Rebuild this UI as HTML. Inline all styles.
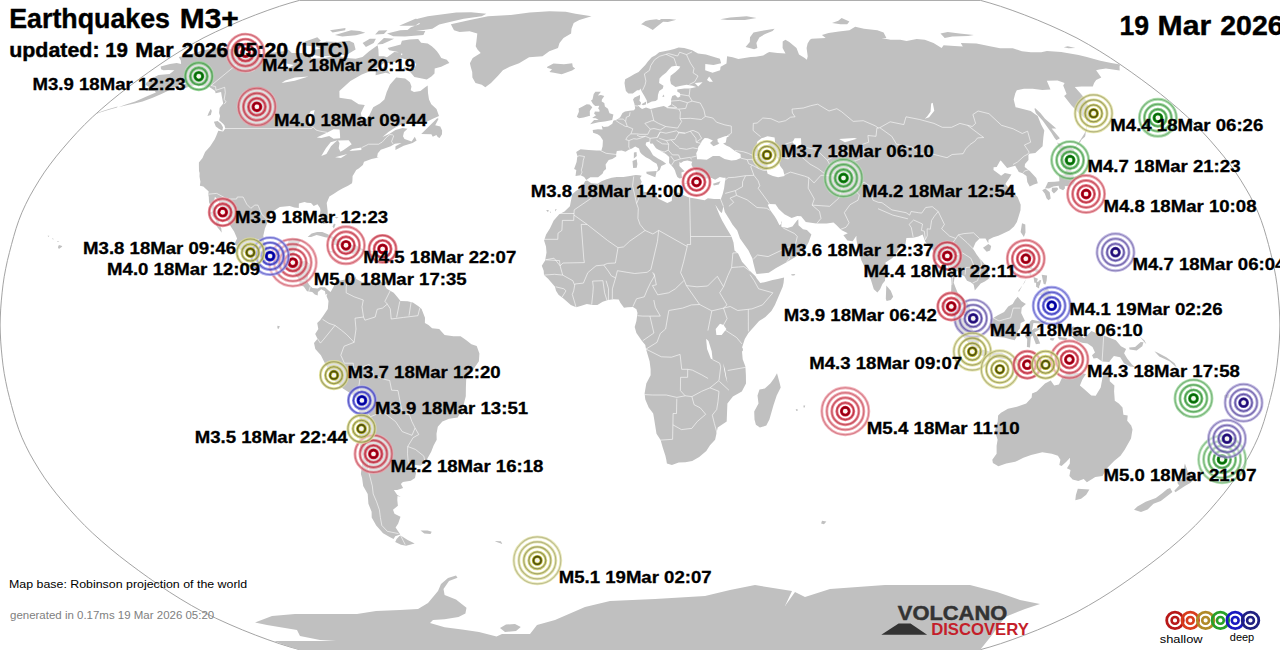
<!DOCTYPE html>
<html><head><meta charset="utf-8"><title>Earthquakes M3+</title>
<style>
html,body{margin:0;padding:0;background:#fff;}
body{width:1280px;height:650px;overflow:hidden;position:relative;font-family:"Liberation Sans",sans-serif;}
svg{position:absolute;left:0;top:0;}
.l{position:absolute;font-weight:bold;font-size:16px;color:#000;white-space:nowrap;line-height:1;}
</style></head><body>
<svg width="1280" height="650" viewBox="0 0 1280 650">
<path d="M299.4,0.4 290.1,3.0 279.5,6.3 267.9,10.3 255.5,14.9 242.4,20.1 229.0,25.8 215.6,31.9 203.0,38.1 191.3,44.6 180.2,51.2 169.4,58.0 159.0,65.0 148.8,72.1 138.8,79.3 129.0,86.6 119.4,94.0 110.2,101.5 101.3,109.1 92.7,116.8 84.6,124.6 77.1,132.4 70.0,140.2 63.1,148.2 56.5,156.1 50.3,164.1 44.5,172.1 39.3,180.1 34.4,188.2 29.8,196.2 25.7,204.3 22.0,212.3 18.8,220.4 16.1,228.4 13.7,236.5 11.5,244.5 9.4,252.6 7.4,260.6 5.7,268.7 4.2,276.7 3.0,284.8 2.1,292.8 1.3,300.9 0.7,308.9 0.3,317.0 0.1,325.0 0.3,333.0 0.7,341.1 1.3,349.1 2.1,357.2 3.0,365.2 4.2,373.3 5.7,381.3 7.4,389.4 9.4,397.4 11.5,405.5 13.7,413.5 16.1,421.6 18.8,429.6 22.0,437.7 25.7,445.7 29.8,453.8 34.4,461.8 39.3,469.9 44.5,477.9 50.3,485.9 56.5,493.9 63.1,501.8 70.0,509.8 77.1,517.6 84.6,525.4 92.7,533.2 101.3,540.9 110.2,548.5 119.4,556.0 129.0,563.4 138.8,570.7 148.8,577.9 159.0,585.0 169.4,592.0 180.2,598.8 191.3,605.4 203.0,611.9 215.6,618.1 229.0,624.2 242.4,629.9 255.5,635.1 267.9,639.7 279.5,643.7 290.1,647.0 299.4,649.6 980.6,649.6 989.9,647.0 1000.5,643.7 1012.1,639.7 1024.5,635.1 1037.6,629.9 1051.0,624.2 1064.4,618.1 1077.0,611.9 1088.7,605.4 1099.8,598.8 1110.6,592.0 1121.0,585.0 1131.2,577.9 1141.2,570.7 1151.0,563.4 1160.6,556.0 1169.8,548.5 1178.7,540.9 1187.3,533.2 1195.4,525.4 1202.9,517.6 1210.0,509.8 1216.9,501.8 1223.5,493.9 1229.7,485.9 1235.5,477.9 1240.7,469.9 1245.6,461.8 1250.2,453.8 1254.3,445.7 1258.0,437.7 1261.2,429.6 1263.9,421.6 1266.3,413.5 1268.5,405.5 1270.6,397.4 1272.6,389.4 1274.3,381.3 1275.8,373.3 1277.0,365.2 1277.9,357.2 1278.7,349.1 1279.3,341.1 1279.7,333.0 1279.9,325.0 1279.7,317.0 1279.3,308.9 1278.7,300.9 1277.9,292.8 1277.0,284.8 1275.8,276.7 1274.3,268.7 1272.6,260.6 1270.6,252.6 1268.5,244.5 1266.3,236.5 1263.9,228.4 1261.2,220.4 1258.0,212.3 1254.3,204.3 1250.2,196.2 1245.6,188.2 1240.7,180.1 1235.5,172.1 1229.7,164.1 1223.5,156.1 1216.9,148.2 1210.0,140.2 1202.9,132.4 1195.4,124.6 1187.3,116.8 1178.7,109.1 1169.8,101.5 1160.6,94.0 1151.0,86.6 1141.2,79.3 1131.2,72.1 1121.0,65.0 1110.6,58.0 1099.8,51.2 1088.7,44.6 1077.0,38.1 1064.4,31.9 1051.0,25.8 1037.6,20.1 1024.5,14.9 1012.1,10.3 1000.5,6.3 989.9,3.0 980.6,0.4Z" fill="#fff" stroke="#999" stroke-width="0.9"/>
<path d="M160.7,66.4 169.9,63.9 176.7,62.9 181.1,63.9 180.8,60.5 178.8,57.0 188.5,55.0 203.4,50.2 220.0,46.9 228.8,48.6 236.5,50.2 245.8,50.9 251.6,52.2 258.8,54.6 267.4,52.9 274.2,52.6 283.6,51.2 288.3,49.6 291.8,52.9 302.1,52.9 310.5,54.6 311.2,58.7 325.0,58.0 332.0,56.3 338.2,55.3 343.6,57.7 355.7,58.7 362.5,57.0 369.2,51.2 377.6,45.3 378.4,49.6 378.7,56.3 383.9,56.3 387.0,57.3 394.2,51.9 401.3,52.6 400.8,56.3 396.8,61.5 389.1,62.9 383.5,63.2 377.5,67.4 372.6,70.3 361.8,74.6 350.4,81.1 339.4,91.0 339.5,97.8 351.3,99.6 358.7,104.2 364.8,104.9 360.9,113.0 361.9,119.5 366.8,118.7 369.5,114.9 373.2,107.2 379.9,103.4 384.4,99.6 386.7,92.1 389.9,84.7 396.2,77.5 405.2,78.5 409.9,82.2 411.5,86.6 410.7,90.3 414.0,92.1 420.4,91.0 425.2,87.3 427.7,85.5 428.0,92.9 429.0,99.6 431.3,104.2 436.5,109.1 439.0,116.0 432.3,119.1 422.8,123.8 410.5,123.8 402.8,123.8 394.9,127.7 388.4,132.0 382.5,137.1 389.2,133.9 395.5,130.0 402.5,128.1 407.5,128.8 404.0,132.0 403.0,136.3 404.5,139.1 411.6,141.4 414.8,136.7 416.6,140.6 412.6,143.0 403.7,145.8 395.4,150.1 395.5,146.2 401.5,143.0 394.8,143.8 390.7,146.2 385.2,148.2 380.8,149.7 377.8,153.3 377.1,156.9 378.8,156.9 376.1,158.1 371.5,158.9 364.0,161.7 362.9,164.9 358.7,168.5 356.2,170.1 353.9,174.1 352.6,176.1 352.4,180.9 352.0,183.3 348.0,185.8 342.4,188.6 338.0,191.0 333.9,193.8 329.4,196.6 326.7,203.1 327.6,210.7 327.7,218.4 327.2,221.2 325.7,223.6 323.2,224.0 321.8,220.4 319.9,214.3 320.5,210.3 320.0,207.9 317.5,204.3 313.7,205.9 311.0,203.1 307.0,202.7 304.5,201.9 298.9,203.5 298.8,207.9 294.4,207.5 289.7,205.9 279.8,207.1 272.8,211.5 269.1,213.9 268.2,220.8 264.9,228.4 263.3,235.7 264.3,242.1 267.3,247.7 272.3,251.8 279.5,250.1 284.0,250.1 287.2,245.3 288.6,240.5 291.6,239.3 297.0,238.5 301.0,239.7 298.2,244.5 295.9,250.5 293.6,254.2 293.3,259.4 291.6,261.4 299.0,261.4 306.1,261.0 310.2,264.6 308.2,270.7 308.0,276.7 307.0,280.7 309.1,284.8 312.5,288.0 317.7,288.4 319.9,287.2 324.9,287.2 328.6,290.4 327.7,293.6 325.5,294.8 325.0,291.2 321.2,289.2 317.9,292.0 317.7,295.6 314.9,294.4 312.2,292.0 307.0,291.2 303.7,286.4 299.6,285.2 299.5,280.7 295.8,274.7 294.0,271.9 290.8,271.9 285.7,269.5 280.5,268.7 277.3,266.2 272.7,260.6 269.3,259.8 263.8,261.8 257.1,259.4 252.5,257.4 247.4,254.2 244.1,252.6 238.5,248.5 234.8,243.3 237.1,238.5 234.1,231.6 229.9,225.2 227.4,221.2 224.0,214.3 222.9,212.3 219.6,206.3 218.5,199.4 214.9,197.0 213.4,204.3 215.5,208.3 216.7,212.3 217.8,218.4 219.7,224.4 221.3,228.4 221.7,232.8 220.1,230.4 217.4,227.2 215.6,224.4 216.2,220.4 212.9,217.1 210.5,213.5 208.9,213.1 212.1,211.5 211.0,206.3 209.0,202.3 208.8,197.0 208.2,194.2 208.7,191.4 206.0,189.0 203.3,186.6 199.9,185.8 200.4,181.7 199.5,176.5 199.6,172.9 199.0,170.9 198.9,166.1 198.9,162.5 202.5,158.1 205.1,152.1 210.2,146.2 214.6,139.5 216.1,136.3 218.3,130.8 223.1,131.6 225.3,128.5 224.4,125.3 222.8,123.4 219.1,120.3 220.1,116.0 219.1,113.0 219.6,108.0 223.2,103.4 222.4,99.6 221.7,95.9 221.1,92.1 215.6,93.3 215.1,91.0 211.6,88.4 208.5,86.6 201.8,86.2 196.4,84.7 190.0,86.6 183.6,88.4 175.8,89.5 182.3,84.7 189.5,82.2 184.5,82.9 178.1,85.8 169.2,90.3 161.4,94.0 152.7,97.8 142.6,101.5 134.5,103.4 126.5,105.3 118.4,107.2 125.8,104.6 135.2,101.5 147.6,95.9 155.9,92.5 154.8,91.0 145.3,91.0 149.3,87.3 145.5,84.7 146.6,82.2 153.7,77.5 158.5,74.9 169.6,73.9 174.4,70.3 168.1,69.9 163.5,70.3 161.0,69.2Z M549.5,11.2 565.8,11.8 575.4,13.7 591.5,16.2 579.3,20.1 573.7,22.9 571.5,28.8 571.1,33.4 563.5,38.1 559.5,43.0 558.0,47.9 549.3,51.2 542.5,56.3 529.1,57.3 519.1,63.2 509.7,66.7 502.9,70.3 498.0,75.7 491.0,82.9 485.3,87.3 481.8,84.7 475.5,82.9 472.4,77.5 472.2,72.1 470.7,66.7 469.9,63.2 472.7,58.0 480.7,52.9 477.5,49.6 475.7,46.3 476.4,41.4 477.3,33.4 469.6,31.2 459.6,31.9 454.0,30.3 452.4,27.3 450.9,24.3 469.9,20.1 488.1,16.2 510.8,14.9 529.7,12.5Z M547.3,66.7 553.5,63.6 564.0,64.3 572.2,63.2 572.8,66.7 575.2,68.5 572.1,70.6 561.7,74.2 553.9,72.8 549.4,72.1 552.0,69.2 547.0,67.8Z M678.6,47.6 684.2,47.9 692.2,50.2 698.0,53.6 705.9,54.6 719.9,58.7 721.1,63.2 713.5,65.0 705.3,63.9 705.2,70.3 712.5,72.8 720.1,70.3 720.6,66.7 726.5,63.6 727.1,56.3 732.6,57.3 738.4,59.1 750.7,57.0 755.8,56.7 763.2,55.6 767.2,52.9 769.3,51.9 777.5,52.9 785.5,53.6 782.6,47.9 782.7,41.4 785.4,39.7 789.3,42.0 796.5,47.9 799.0,54.6 804.7,58.0 806.9,59.8 807.7,56.3 806.6,47.9 807.6,43.6 809.9,39.7 811.6,38.8 825.7,38.1 821.9,35.0 828.6,33.1 838.9,31.5 849.4,30.3 855.2,26.7 864.0,28.8 877.4,30.3 883.6,32.5 886.4,38.1 881.5,38.1 890.5,39.7 900.3,39.7 906.6,41.0 916.7,39.1 924.8,39.7 933.5,43.0 941.6,47.9 943.6,45.3 954.4,45.9 962.8,46.6 960.8,43.0 976.5,43.6 989.9,46.3 1000.1,48.2 1012.8,48.2 1021.9,51.2 1031.0,52.2 1041.2,52.2 1047.0,50.9 1061.2,51.9 1078.6,55.0 1086.8,57.0 1100.3,60.8 1111.3,62.9 1120.1,64.6 1119.5,66.7 1119.7,70.6 1105.9,68.5 1099.2,69.6 1096.1,70.3 1101.3,77.5 1096.2,80.0 1094.1,82.9 1092.8,86.6 1081.5,86.6 1074.8,87.0 1081.0,94.0 1086.2,100.4 1088.6,107.2 1088.8,112.2 1090.2,118.7 1087.9,120.7 1080.7,114.9 1071.3,105.3 1064.1,95.9 1066.6,94.0 1063.2,85.5 1064.6,82.9 1057.5,80.4 1046.8,80.7 1050.5,89.5 1042.3,89.9 1032.6,88.8 1024.0,88.8 1016.8,90.3 1015.3,93.3 1013.7,99.6 1015.6,107.2 1030.7,111.0 1037.7,116.0 1041.1,124.6 1044.3,130.4 1043.4,137.1 1042.6,146.2 1035.3,152.9 1029.3,153.7 1028.4,154.9 1028.5,160.1 1025.0,164.1 1024.7,166.9 1029.8,170.9 1036.3,178.1 1037.8,183.3 1033.9,184.5 1029.7,186.6 1027.3,182.1 1026.5,176.1 1022.6,173.3 1018.8,172.1 1015.2,165.7 1007.1,168.1 1001.2,160.9 1000.3,160.5 996.7,166.9 993.6,167.3 993.5,170.1 999.6,174.5 1001.1,175.7 1004.9,172.9 1011.5,174.5 1008.5,179.3 1005.3,184.1 1010.8,190.2 1017.6,197.0 1019.2,201.0 1020.7,204.7 1020.5,210.3 1018.7,216.3 1016.9,222.0 1014.0,226.4 1009.5,230.4 1003.2,233.6 998.3,235.7 993.3,237.3 988.5,239.7 988.3,243.3 985.5,238.5 979.6,238.5 975.6,242.5 973.0,248.5 976.6,254.6 980.8,259.4 984.9,264.6 988.2,272.7 988.8,278.7 984.8,281.5 980.7,283.5 974.8,290.4 973.7,284.8 970.7,282.3 967.0,280.7 964.2,275.9 959.1,273.9 957.4,270.7 955.7,271.5 953.7,282.7 955.5,287.6 958.8,295.6 962.8,297.6 966.4,300.9 969.9,306.9 970.1,313.7 973.0,319.4 970.5,319.8 965.1,315.7 961.5,312.9 959.2,306.9 958.6,300.9 953.7,294.0 951.1,292.0 951.4,284.8 951.2,276.7 949.2,270.7 947.0,262.6 945.5,258.6 940.4,259.4 934.5,260.6 934.5,254.6 932.1,248.5 928.2,245.3 925.3,241.7 922.6,234.4 918.4,236.5 913.3,237.7 906.4,238.1 905.4,244.5 900.4,247.3 897.4,251.8 892.1,258.2 885.5,262.6 885.5,271.5 885.0,280.7 882.4,284.0 880.1,289.2 877.4,292.4 873.8,289.2 870.8,279.5 866.4,270.7 861.4,260.6 857.9,248.5 856.4,239.3 856.4,235.7 852.7,241.3 847.4,240.5 843.4,235.3 847.8,233.2 841.2,230.0 836.6,225.2 833.5,222.4 826.7,223.6 816.3,223.6 805.8,222.0 801.1,216.3 797.3,215.9 791.6,218.0 784.4,214.3 778.7,209.1 775.5,204.3 769.6,203.9 767.7,204.7 770.3,210.3 774.6,216.3 776.6,219.6 779.5,225.2 782.1,223.2 781.5,220.4 781.3,226.8 787.3,228.0 792.4,226.4 797.0,220.4 798.3,219.2 798.5,225.2 803.0,229.2 806.9,230.0 811.4,234.4 808.5,242.5 805.1,248.5 802.1,250.1 796.2,256.6 786.6,262.2 775.7,268.3 768.8,272.7 761.8,273.5 756.5,273.9 755.3,270.7 753.2,262.6 752.4,258.6 748.5,250.5 744.8,245.3 740.0,238.5 737.2,230.4 732.4,224.4 730.1,220.4 724.8,211.9 723.4,206.3 720.9,199.0 722.6,194.2 724.1,188.2 724.9,182.1 725.6,177.7 723.2,177.7 719.8,176.9 715.1,179.7 711.6,178.1 706.6,178.5 701.6,177.7 696.5,176.1 695.1,170.1 691.9,166.1 691.4,164.1 692.3,161.7 687.3,160.5 683.4,161.3 680.9,162.9 679.5,162.1 679.4,166.1 681.8,168.5 684.6,171.3 681.4,172.5 682.0,178.1 679.6,178.5 677.3,176.9 675.8,173.3 675.0,170.5 673.6,168.1 671.2,165.3 669.1,162.9 669.2,156.9 665.9,154.1 660.9,151.3 656.0,148.2 652.7,143.4 650.5,143.8 649.5,141.4 646.0,142.6 645.7,145.0 650.0,150.1 653.0,155.3 657.9,158.5 662.9,161.3 666.2,163.7 661.3,166.1 659.8,170.1 656.9,172.1 658.1,168.1 656.7,163.7 653.1,161.7 649.8,159.3 645.8,157.3 641.6,154.1 640.0,152.1 639.0,148.6 635.2,146.6 632.0,148.6 628.8,149.7 625.5,151.7 621.7,150.5 616.8,150.9 616.1,154.5 616.3,156.5 612.3,158.9 608.7,160.1 605.6,164.5 606.1,168.9 603.7,170.9 602.5,173.7 598.1,177.3 590.4,177.3 586.3,180.1 584.1,176.9 580.6,175.3 575.5,176.1 576.3,170.1 574.1,168.9 576.6,162.1 577.4,156.1 576.2,152.1 580.6,149.3 588.6,150.1 596.6,150.5 601.4,150.5 602.6,146.2 602.9,140.2 600.1,135.9 597.6,134.3 593.1,132.8 592.7,130.0 598.0,129.2 602.6,129.6 601.7,125.7 603.8,126.9 608.1,126.5 612.3,123.8 613.3,120.7 617.1,119.5 620.2,117.2 622.5,113.0 625.0,111.4 629.5,110.7 634.0,110.3 635.2,108.4 634.4,103.8 633.0,99.6 634.5,97.4 640.0,95.1 640.0,97.8 639.4,100.8 641.2,102.7 637.9,105.3 640.0,107.6 642.1,109.1 646.0,107.6 650.5,109.1 657.9,107.2 663.8,106.1 666.8,107.6 671.1,104.6 671.1,99.6 672.2,95.9 675.1,95.1 677.9,97.8 680.4,96.2 679.8,92.9 677.4,91.8 677.2,89.5 684.2,88.4 689.9,88.4 696.3,87.0 692.4,85.8 686.6,84.7 681.1,85.8 675.5,87.0 671.0,84.0 670.1,80.0 670.6,75.7 675.5,72.1 679.2,68.5 680.3,66.4 676.2,65.7 671.7,66.4 669.0,69.2 666.0,72.8 662.1,75.7 659.5,78.5 659.1,82.9 663.5,85.8 662.8,88.4 659.2,91.0 658.0,94.8 657.6,99.6 655.6,101.1 651.8,101.5 647.1,103.8 646.8,100.4 644.4,95.9 642.0,92.1 640.3,88.4 639.4,90.3 637.1,90.3 632.8,93.6 628.4,93.6 625.9,91.0 625.0,86.6 624.5,82.9 625.2,79.3 630.3,76.4 634.5,73.9 638.6,72.1 641.4,68.9 645.3,65.0 647.9,61.5 651.7,57.3 655.5,55.3 659.2,52.2 664.3,51.2 669.3,50.2 674.2,48.9Z M714.1,199.0 720.9,199.0 723.4,206.3 722.1,212.3 721.4,213.1 718.9,210.3 715.4,204.7 715.9,206.3 719.5,215.1 722.1,220.4 726.7,228.4 731.5,236.5 733.5,242.5 734.5,250.5 738.1,253.4 742.0,261.8 745.6,265.8 750.0,271.1 755.5,276.3 756.6,278.3 760.3,283.1 765.5,281.9 772.6,279.9 777.8,279.1 784.1,277.5 783.6,282.7 782.7,286.8 779.3,294.8 774.9,304.9 771.4,310.9 765.4,317.0 759.1,321.0 753.8,327.0 748.4,333.0 744.8,339.1 742.2,347.1 742.1,352.4 742.7,359.2 745.4,366.5 745.9,375.3 746.0,383.4 741.8,391.4 732.9,396.6 727.4,403.5 727.0,413.5 726.7,421.6 717.7,427.6 716.4,433.7 715.1,439.7 710.0,445.3 706.3,451.0 699.2,457.0 692.2,461.0 685.4,462.2 678.7,462.6 671.9,465.1 666.9,463.4 666.3,459.8 665.4,455.8 662.8,447.7 660.6,440.1 656.5,433.7 653.9,417.6 653.2,413.5 648.7,407.5 645.3,399.5 644.6,393.4 646.3,383.4 650.6,375.3 650.6,369.3 649.6,361.2 646.0,349.1 645.3,345.1 641.8,340.7 636.4,333.0 634.7,327.0 636.4,321.0 637.5,312.9 636.4,309.3 632.9,306.9 627.6,307.3 624.0,307.7 620.5,302.9 618.7,299.6 613.4,299.2 608.1,300.0 602.7,301.7 597.4,304.9 592.8,304.9 586.8,304.1 581.4,305.7 576.1,307.3 570.8,304.9 563.7,298.8 558.5,294.8 556.0,290.8 555.0,286.8 550.9,281.9 548.1,278.7 544.0,275.1 543.7,270.7 541.8,265.8 545.1,260.6 546.5,252.6 546.0,246.5 544.1,240.5 546.1,234.4 549.9,228.4 553.7,220.4 559.2,214.3 564.5,211.5 569.9,206.3 570.9,201.0 572.3,194.2 575.9,191.0 581.8,187.4 585.2,180.9 587.2,180.5 591.4,183.3 597.5,183.7 601.6,181.3 606.7,179.3 611.7,177.7 616.7,176.9 623.4,176.9 630.0,176.1 635.7,174.9 639.3,175.3 641.7,175.7 640.0,178.1 641.7,181.7 640.0,186.2 639.0,189.0 642.4,191.4 648.4,192.6 656.3,195.0 658.0,198.6 667.3,203.1 671.7,201.0 672.2,196.2 673.8,193.8 677.2,192.6 680.6,193.0 683.0,195.0 689.2,197.4 697.8,199.0 704.6,200.2 707.9,198.2Z M777.0,373.3 779.8,383.4 780.7,387.4 776.7,395.4 773.4,405.5 769.4,419.6 766.3,425.6 759.9,427.6 755.9,424.8 754.5,419.6 754.2,411.5 758.5,403.5 757.5,395.4 759.5,389.4 764.8,388.6 770.3,383.4 774.0,378.5Z M328.6,290.4 330.6,292.0 335.8,282.7 339.5,280.7 344.9,279.5 349.0,275.5 351.0,277.5 350.1,281.1 354.8,278.3 355.7,275.9 356.2,279.1 362.4,282.3 369.4,282.3 376.5,282.3 381.8,282.3 384.2,284.4 386.8,288.8 390.2,290.8 393.7,292.8 397.1,296.8 400.5,300.9 407.6,301.3 412.9,302.5 418.1,306.1 421.6,308.9 425.0,317.8 424.9,323.0 428.5,325.0 432.1,328.2 439.2,329.0 444.6,335.1 453.5,336.3 460.6,336.3 466.0,339.9 471.4,344.3 476.7,345.9 479.4,353.6 478.9,361.2 474.8,367.3 470.5,373.3 466.2,379.3 465.9,387.4 465.8,396.2 463.6,404.7 460.7,412.3 457.7,417.6 449.1,418.8 442.4,421.6 437.8,426.8 436.5,433.7 436.7,439.7 433.5,445.7 431.2,451.8 427.4,458.6 424.8,462.6 420.7,465.5 415.3,465.1 408.5,461.8 408.6,465.1 413.4,468.7 416.2,471.9 415.0,477.9 410.8,480.7 402.9,481.9 400.9,483.9 403.1,487.9 397.2,489.9 393.9,489.9 397.3,495.1 400.9,497.1 397.5,495.9 397.3,499.9 397.9,505.8 393.0,509.8 394.5,513.7 400.5,516.8 398.2,523.5 395.6,527.4 400.3,534.4 395.2,536.3 393.6,539.0 389.6,537.0 383.1,533.2 376.2,525.4 371.7,517.6 371.6,511.7 368.4,503.8 367.7,493.9 363.2,485.9 362.1,477.9 360.9,473.9 361.8,465.9 362.7,457.8 360.1,445.7 359.2,437.7 359.5,425.6 359.2,413.5 357.2,399.5 352.4,394.6 342.9,388.6 334.4,380.5 330.9,373.3 324.9,363.2 320.9,355.2 315.3,349.1 314.0,343.1 317.5,338.7 315.2,333.9 318.3,329.0 317.2,323.0 320.1,320.2 323.8,314.9 327.8,308.9 328.5,300.9 326.5,296.0Z M400.6,535.5 407.7,540.1 414.7,543.5 409.9,544.7 406.1,545.8 401.0,544.7 395.2,542.0 396.6,539.0 399.2,536.3Z M420.5,530.5 427.6,530.5 431.7,531.7 430.5,534.0 424.3,533.6Z M1106.8,368.1 1109.5,375.3 1109.8,381.3 1114.4,385.4 1114.1,391.4 1114.8,400.7 1118.8,403.5 1122.5,407.5 1123.4,414.7 1127.7,415.6 1127.2,420.8 1131.2,425.6 1132.5,429.6 1131.0,438.5 1124.7,449.8 1120.5,455.8 1114.1,461.0 1107.0,468.3 1102.5,475.9 1095.3,477.1 1086.9,482.3 1083.7,479.1 1078.3,481.1 1072.6,479.5 1069.4,475.9 1070.5,469.9 1066.9,468.3 1069.8,463.8 1070.0,457.8 1066.3,461.8 1061.6,465.9 1059.3,465.1 1060.4,459.8 1057.9,455.8 1051.9,453.8 1042.3,452.2 1031.1,455.0 1023.4,457.8 1015.2,461.8 1006.2,463.4 998.4,466.3 992.9,463.0 992.3,459.8 996.6,453.8 996.6,445.7 997.6,439.7 995.0,431.6 995.9,427.6 997.7,421.6 998.1,415.6 1001.0,412.7 1007.9,408.7 1016.9,406.7 1026.2,403.5 1031.7,397.4 1032.0,393.4 1036.8,391.4 1040.9,387.4 1045.0,383.4 1050.7,380.5 1054.2,385.4 1058.9,384.6 1062.3,377.3 1064.7,374.9 1069.4,371.3 1071.3,373.3 1076.3,372.9 1081.5,373.3 1086.0,374.1 1082.5,379.3 1079.9,385.4 1084.6,389.4 1091.3,395.4 1095.7,395.8 1100.7,387.4 1102.6,377.3 1104.9,369.3Z M1077.8,488.7 1089.4,489.5 1086.2,494.7 1081.1,498.7 1075.3,500.3 1075.9,495.1Z M1184.9,463.4 1187.3,469.9 1188.3,473.9 1196.5,476.7 1190.6,482.7 1184.9,485.9 1175.4,492.3 1174.3,490.7 1179.2,485.5 1177.2,482.7 1182.9,477.9 1184.3,473.9 1184.1,466.7Z M1170.1,487.9 1172.4,491.9 1166.0,497.1 1160.8,501.1 1153.5,503.8 1147.6,509.4 1141.0,512.1 1134.0,509.8 1137.4,506.6 1145.7,501.8 1155.8,497.9 1162.5,493.1 1167.3,489.1Z M1068.3,330.6 1073.0,326.6 1079.0,328.6 1080.6,335.1 1084.1,338.3 1091.4,331.0 1100.2,334.7 1103.7,335.5 1115.9,340.3 1121.0,346.3 1126.1,349.1 1124.1,353.2 1127.2,358.4 1132.0,364.4 1135.2,367.3 1130.0,366.5 1123.9,363.2 1120.2,357.2 1113.9,356.0 1111.2,359.2 1109.2,362.0 1102.1,361.6 1097.1,358.0 1093.5,358.4 1092.0,355.2 1095.0,352.4 1092.5,347.1 1087.4,343.5 1082.1,342.7 1076.9,340.7 1074.4,339.1 1071.7,336.3 1077.1,334.3 1071.8,333.0Z M1017.7,296.8 1021.5,301.3 1025.9,304.1 1021.7,307.7 1021.2,312.9 1025.0,321.0 1020.7,323.0 1020.0,328.2 1017.8,331.0 1016.6,337.1 1014.7,340.3 1009.4,339.1 1004.1,337.5 998.8,337.1 994.2,336.7 993.6,331.0 990.2,325.0 990.1,319.0 993.6,317.8 998.2,314.9 1004.1,312.1 1008.2,306.5 1012.7,304.1 1015.0,300.0Z M941.0,302.5 948.8,304.1 953.3,309.7 959.8,316.1 963.4,318.2 970.6,325.0 972.3,329.0 975.1,334.3 979.3,337.1 978.2,348.3 973.6,348.7 968.5,343.1 963.3,337.1 959.9,331.0 956.4,325.0 953.5,318.2 947.3,310.9Z M975.9,352.4 980.6,349.1 985.9,350.4 994.7,352.8 1001.7,352.8 1008.6,356.4 1008.1,359.6 999.6,358.4 992.6,357.2 985.6,356.4 978.6,354.8Z M1027.2,339.1 1024.8,336.3 1026.7,331.0 1028.5,327.0 1029.9,321.8 1032.0,319.8 1038.1,321.0 1044.5,321.0 1047.7,319.0 1045.2,323.0 1039.9,323.4 1033.5,323.0 1032.0,330.2 1034.6,328.2 1041.0,328.6 1034.5,332.6 1037.9,337.9 1040.2,343.5 1035.9,344.3 1032.6,335.5 1030.8,337.1 1030.0,347.5 1026.9,347.1Z M1025.4,250.5 1031.0,250.5 1032.0,256.6 1030.6,261.4 1032.1,267.9 1038.3,269.5 1040.5,272.7 1036.9,272.3 1031.3,269.5 1027.9,267.5 1025.1,262.6 1024.0,259.4 1025.6,258.6Z M1035.4,296.8 1040.5,293.6 1042.9,292.0 1047.1,286.8 1051.2,294.8 1050.5,299.6 1047.8,302.5 1043.4,300.0 1040.6,294.8Z M1045.1,188.2 1048.0,182.1 1054.5,181.7 1059.4,181.3 1059.1,174.9 1064.6,174.5 1065.8,170.1 1064.3,164.1 1062.6,161.7 1063.9,158.1 1068.1,162.1 1071.9,166.1 1071.3,171.3 1073.7,176.1 1074.9,180.9 1074.0,184.1 1071.2,185.4 1069.7,185.8 1064.8,186.2 1065.0,188.2 1063.1,190.2 1059.4,188.6 1058.6,185.8 1053.2,186.6 1049.0,188.6Z M1059.3,155.3 1057.9,151.3 1061.5,151.3 1059.2,148.2 1057.3,142.6 1065.5,147.0 1071.5,147.4 1074.4,150.9 1070.5,156.1 1063.9,153.7 1063.5,156.9 1061.0,158.1Z M1042.2,190.2 1045.3,188.6 1049.7,192.2 1050.7,198.6 1048.5,200.2 1046.5,198.2 1044.9,193.8Z M1051.6,191.0 1052.0,187.8 1057.2,187.4 1058.2,189.0 1056.7,191.0 1053.9,193.4Z M1054.6,137.9 1051.2,132.4 1042.8,120.7 1035.8,113.0 1034.5,109.1 1035.0,108.0 1040.4,113.0 1045.0,118.7 1056.3,128.5 1051.6,128.5 1059.9,138.3 1056.4,140.2Z M1020.6,232.0 1022.0,223.2 1025.3,224.4 1025.5,232.4 1023.9,236.9Z M983.0,247.7 988.4,244.1 991.2,246.1 990.1,250.5 986.7,251.8Z M885.8,298.8 886.3,285.6 890.8,290.8 893.2,296.8 890.8,300.0 886.6,300.9Z M594.1,119.9 598.7,119.9 595.8,118.3 592.2,118.0 596.0,115.3 594.1,113.7 594.9,111.4 599.4,111.8 599.5,109.9 598.2,108.4 599.3,105.7 595.4,106.1 594.0,104.9 592.7,103.4 591.0,100.4 592.5,99.6 593.7,94.0 595.4,91.8 600.9,91.8 597.9,95.5 600.9,95.1 604.3,95.9 601.9,99.6 601.7,101.5 604.3,103.0 604.9,106.5 608.0,108.7 608.7,111.0 609.5,113.3 613.4,114.5 612.2,119.9 604.7,121.4 598.5,122.2 590.1,124.2Z M589.0,116.0 583.7,117.6 579.0,118.3 576.8,116.8 578.9,111.8 578.7,108.4 583.5,106.1 586.7,104.2 589.6,104.6 592.3,107.2 589.8,111.0 589.9,116.0Z M641.1,24.3 645.5,20.9 649.9,20.1 656.5,19.3 663.4,21.5 656.1,27.3 652.8,30.0 648.1,27.3 643.4,24.9Z M658.9,21.5 660.8,19.0 669.6,19.0 676.4,19.8 667.9,22.1Z M745.6,46.9 749.8,42.0 750.0,37.2 753.5,32.5 760.9,30.9 774.6,28.8 772.6,30.9 765.1,34.0 759.3,37.5 756.4,43.0 757.4,47.9 754.1,49.2Z M832.0,22.9 838.3,20.7 841.6,18.0 849.4,21.5 847.2,24.3 840.4,24.3Z M940.5,33.4 947.7,31.9 959.5,33.4 973.9,35.0 968.1,35.9 952.2,36.6 944.7,38.1Z M1063.8,47.2 1067.7,46.3 1075.4,47.9 1068.4,48.2Z M720.2,19.3 730.1,17.5 746.6,16.2 756.6,18.0 744.9,20.1 727.2,20.1Z M307.6,236.9 311.6,233.6 317.1,232.0 322.3,232.0 327.2,234.0 333.7,237.3 339.6,240.1 344.3,243.7 339.7,244.9 332.0,244.9 334.1,242.1 330.8,238.1 325.0,237.3 320.6,236.1 316.6,234.9 311.1,236.9Z M342.4,251.0 349.1,244.9 355.4,244.9 360.3,247.7 363.8,250.1 358.9,251.0 352.9,254.2 348.2,252.2 342.7,251.4Z M329.1,251.0 336.0,251.8 334.1,253.0 329.3,251.8Z M368.0,250.5 373.6,251.0 373.4,252.6 367.8,252.6Z M421.2,133.9 437.2,118.3 438.6,118.7 435.2,125.3 440.3,126.5 442.1,130.4 442.0,134.3 439.6,137.9 437.7,137.1 436.4,135.1 432.8,136.7 431.4,134.3Z M222.4,130.8 218.8,128.8 215.8,126.5 213.9,121.8 217.6,121.1 221.0,123.8 223.0,127.3Z M208.6,113.0 210.8,108.7 211.8,111.0 210.8,114.9 207.4,116.0Z M446.9,63.9 441.2,66.7 434.7,68.5 434.5,73.5 431.4,76.4 426.8,79.6 420.7,78.2 414.4,77.1 412.1,74.2 409.0,70.6 400.8,70.6 404.7,67.1 414.3,68.9 416.3,63.9 411.8,60.8 407.3,59.8 398.7,57.3 402.8,53.9 398.0,51.9 389.3,50.2 387.6,47.9 400.7,44.6 401.9,40.7 409.3,39.4 418.2,39.1 421.1,42.7 427.7,43.6 431.8,46.3 434.8,48.9 436.9,51.2 438.9,53.9 441.3,58.0 446.8,59.8 449.4,62.9Z M385.7,72.8 375.6,75.3 375.8,71.3 384.8,66.7 390.4,73.9Z M315.1,46.3 326.3,41.4 337.8,42.0 349.2,40.7 353.9,43.0 355.6,49.6 346.0,55.3 338.9,54.6 332.3,56.0 319.0,56.3 311.2,53.9 311.2,50.6 321.2,48.6Z M305.3,41.4 317.3,37.2 320.9,40.7 311.9,46.3 301.0,44.9Z M369.8,38.8 375.9,38.8 373.7,43.0 365.9,46.9 362.6,43.0Z M383.9,38.1 394.1,38.8 382.6,44.0 377.0,44.6Z M334.9,35.0 351.1,30.3 359.6,30.9 365.3,32.8 356.0,35.3 342.3,36.6Z M378.8,30.6 387.4,30.3 383.9,34.0 375.1,34.4Z M387.0,33.4 400.2,30.3 410.3,29.7 425.3,30.9 423.4,35.0 405.0,36.6 393.3,36.2Z M410.9,27.3 419.2,24.3 420.6,21.5 417.7,18.8 427.8,16.2 456.2,12.5 471.1,12.3 486.4,13.7 481.7,16.2 463.7,18.8 451.8,21.5 439.2,24.6 432.3,28.8 415.9,30.9 407.2,30.3Z M399.1,25.8 415.5,18.8 424.3,19.6 415.1,25.8Z M330.0,30.3 345.5,27.9 345.2,30.3 332.6,32.5Z M646.3,171.7 656.8,170.9 655.3,177.3 646.6,173.7Z M633.1,168.1 632.5,160.9 636.7,159.3 637.4,164.1 636.7,167.7Z M633.8,158.5 633.9,152.5 636.5,152.1 636.8,156.1Z M683.5,182.9 692.9,182.9 691.9,184.1 685.2,183.7Z M713.0,183.7 720.5,181.3 718.8,184.5 713.8,185.4Z M641.5,104.2 646.2,101.5 645.9,104.6 643.0,105.3Z M637.9,103.4 640.9,103.0 640.3,105.3 638.5,104.9Z M662.1,96.6 664.0,94.4 664.2,97.0Z M546.1,209.9 548.8,209.9 548.0,212.3Z M549.8,211.5 551.1,211.9 550.3,213.1Z M555.0,209.5 556.8,209.1 555.2,211.5Z M1175.9,405.9 1184.3,414.7 1184.0,416.0 1176.1,407.9Z M1224.6,395.0 1229.6,394.6 1228.4,398.2 1224.3,397.8Z M1189.4,385.4 1191.6,386.6 1193.3,395.4 1195.0,403.5 1193.6,404.7 1191.4,391.4Z M1157.8,352.8 1166.3,357.2 1174.6,363.2 1176.9,367.7 1169.5,361.2 1159.3,356.4 1154.4,351.2Z M1129.1,347.5 1135.1,347.1 1140.7,341.9 1143.5,342.3 1142.3,346.3 1136.7,350.4 1129.6,349.5Z M1138.2,335.5 1144.4,340.3 1146.3,343.9 1144.9,342.7 1140.9,337.9Z M1055.8,316.1 1059.7,319.0 1058.4,323.0 1060.5,326.2 1057.3,328.2 1055.6,324.2 1056.9,320.6Z M1057.5,336.7 1067.4,337.9 1066.2,340.3 1059.1,339.5Z M1050.3,337.9 1054.6,338.3 1053.1,340.7 1050.2,339.9Z M1041.9,362.4 1047.5,358.8 1053.8,358.8 1048.9,362.4 1043.3,366.5 1039.8,366.0Z M1027.2,359.2 1035.1,357.6 1038.6,358.4 1036.7,360.4 1027.8,360.8Z M1016.6,359.2 1024.5,357.6 1025.0,360.4 1017.2,361.2Z M1013.1,358.4 1016.3,358.4 1015.8,360.8 1013.3,360.4Z M1008.6,357.6 1012.4,358.4 1010.9,360.4 1008.8,359.2Z M1024.1,363.2 1030.3,364.8 1028.4,366.5 1024.0,364.4Z M1041.7,274.7 1047.1,275.5 1046.6,280.7 1045.5,284.4 1043.7,284.0 1042.5,279.1Z M1033.5,277.1 1037.9,278.7 1036.5,282.7 1034.4,282.7Z M1036.1,282.3 1039.6,281.1 1039.1,288.4 1036.1,286.8Z M1039.4,279.9 1041.2,280.3 1039.6,286.0 1039.1,283.5Z M1027.5,270.7 1031.5,271.1 1030.9,275.5 1028.2,273.5Z M1018.0,291.2 1024.8,282.3 1025.9,279.1 1025.3,280.3 1019.1,291.6Z M929.8,270.3 931.0,271.9 930.5,278.7 929.6,276.7Z M791.1,274.3 795.3,273.9 794.3,275.5 791.8,275.5Z M741.9,347.9 742.9,348.3 742.9,351.2 741.8,350.4Z M1073.2,148.9 1075.1,147.0 1077.6,143.4 1080.2,140.2 1083.2,135.5 1084.6,133.2 1085.7,130.4 1086.5,127.3 1086.8,123.8 1086.7,121.1 1087.6,121.4 1087.3,122.6 1087.1,126.1 1086.7,129.6 1085.6,132.4 1085.5,134.7 1085.0,136.7 1081.5,139.8 1079.8,143.0 1076.2,146.2 1073.9,150.1Z M117.0,107.6 109.8,109.5 100.8,112.2 96.7,113.7 96.8,113.3 102.7,111.0 109.8,108.7 117.7,106.5Z M58.9,244.9 61.5,245.7 62.3,246.5 58.9,248.9 57.9,247.3Z M57.1,240.9 59.4,241.3 57.8,242.1Z M52.2,238.1 54.0,239.3 52.6,239.3Z M47.6,235.7 49.4,235.7 48.4,236.9Z M277.4,325.8 279.9,326.2 278.5,329.0 277.4,328.2Z M494.8,540.9 500.9,541.3 502.3,543.9 496.7,542.0Z M822.0,520.8 826.4,521.5 824.0,524.3 821.1,523.5Z M803.4,405.5 805.2,405.5 804.7,407.5 803.6,407.5Z M795.8,409.1 797.9,409.5 797.4,411.1 796.1,410.7Z M334.5,217.1 338.6,217.1 336.7,218.4Z M334.0,223.6 335.6,224.4 333.9,228.4 332.5,226.4Z M384.0,281.5 387.2,281.5 387.0,284.4 383.8,284.4Z M980,650 L299.5,650 L287,646 L274,641 L280,641 L336,641 L320,640 L300,636 L297,630 L267,625 L255,622.5 L272,616 L295,614 L332,614 L357,614 L376,611 L400,610 L418,609 L428,603 L433,597 L438,591 L441,584 L448,578 L456,575.4 L457.5,577.7 L449,581 L443.5,589 L444.6,595 L456,599.6 L462,604.2 L466.5,607.7 L465.4,613.5 L458.5,617 L444.6,619.2 L433,620 L430,623 L444.6,627.3 L462,629.6 L479,632 L496.5,636.5 L502,634 L530,634 L537,625 L555,620 L585,607 L610,601 L655,599 L705,596 L730,590 L755,585 L792,591 L785,606 L795,592 L805,597 L830,589 L885,585 L915,585 L970,585 L997,592 L1020,600 L1040,604 L1025,609 L1005,617 L992,635 Z M500,628 L506,624.5 L515,624 L520.8,627 L516,631 L505,632 Z" fill="#c0c0c0" fill-rule="nonzero"/>
<path d="M696.8,156.5 696.2,153.3 697.9,150.1 698.2,147.0 700.8,143.4 701.8,141.0 704.7,137.9 707.9,138.3 712.9,140.6 710.0,143.0 713.5,146.2 718.1,144.2 719.5,143.0 717.8,142.2 717.4,139.1 725.0,136.3 730.2,135.5 726.7,137.5 725.8,142.6 723.1,143.4 726.2,145.4 729.6,147.0 734.9,150.9 740.5,154.1 740.8,158.1 736.2,160.1 731.3,160.5 724.6,158.9 719.4,156.1 712.9,156.1 706.8,159.7 700.2,159.3 697.0,159.3Z M757.4,141.4 761.5,138.3 767.5,136.3 774.6,137.5 775.2,143.0 770.4,143.0 767.0,145.4 770.1,146.2 771.4,151.3 776.2,156.1 777.5,158.1 778.8,161.7 780.2,166.1 783.2,170.1 784.6,176.1 778.1,177.3 772.9,176.1 767.6,173.7 766.8,170.5 767.6,166.9 767.4,162.1 763.3,156.9 759.3,152.1 756.4,145.0Z M316.8,137.5 327.3,132.4 333.6,129.2 339.6,129.6 340.1,136.3 340.1,138.3 333.6,138.7 329.2,135.9 321.3,137.9Z M321.3,156.1 325.9,148.2 330.6,142.2 337.6,140.2 335.1,142.2 331.0,146.2 326.4,154.1Z M338.0,140.6 348.7,140.2 351.7,144.2 343.6,150.1 340.4,151.7 338.7,148.2 339.5,143.0Z M335.1,157.3 351.2,152.9 347.4,154.1 340.9,158.1Z M352.2,148.9 361.5,147.4 361.3,150.1 349.4,150.9Z M310.9,111.0 314.7,109.9 312.5,118.7 310.6,123.4 305.8,118.7Z M285.3,80.4 295.0,77.5 308.5,76.4 294.7,80.7 281.5,82.9Z M276.0,66.7 285.2,63.2 293.9,65.0 287.6,68.5 278.7,69.2Z M927.1,116.4 930.5,111.8 931.2,103.4 932.7,102.7 934.3,110.7 929.1,117.2 924.8,118.7Z M715.7,329.0 720.0,323.8 723.5,325.0 726.4,329.0 721.7,335.1 716.4,335.1Z M708.5,341.1 711.7,351.2 712.6,359.6 710.9,358.8 707.1,349.1 706.1,338.7Z M723.2,363.2 724.9,369.3 727.4,383.0 725.7,377.3 724.1,369.3Z M694.8,82.9 702.6,82.2 698.2,86.6 696.5,84.7Z M707.0,80.0 709.1,76.4 712.9,81.8 709.5,81.8Z M839.1,139.1 854.5,137.9 857.0,138.7 844.9,142.2Z M794.7,138.3 801.0,138.3 801.4,146.2 796.9,147.4 792.5,142.2Z" fill="#fff"/>
<path d="M224.9,128.5 311.8,128.5 312.6,127.0 313.5,127.3 316.0,130.0 320.1,131.2 327.0,132.4 M362.1,147.4 368.6,144.2 378.7,144.2 380.5,143.0 382.1,142.2 384.9,139.1 386.2,137.5 389.9,134.5 392.5,134.9 393.7,135.9 391.6,141.4 392.9,143.8 M251.1,52.6 211.1,85.5 215.6,86.6 215.9,90.3 224.7,87.3 225.3,92.5 224.2,99.3 226.1,101.9 224.0,104.2 M208.2,194.2 216.7,193.4 227.1,199.0 236.6,199.0 237.3,197.0 243.1,197.0 246.8,204.3 250.8,208.3 254.8,205.1 257.9,205.1 261.8,214.3 268.2,220.8 M278.3,266.6 278.7,263.4 281.9,260.2 285.4,260.2 286.4,253.4 290.9,253.4 294.1,250.5 M290.6,253.4 289.6,261.0 293.0,261.8 M285.3,269.9 288.1,267.0 293.0,261.8 M294.9,272.7 301.0,268.7 304.9,265.4 310.2,264.6 M299.9,280.3 306.9,281.1 M308.7,291.6 310.4,286.4 M347.6,280.3 346.2,286.8 346.2,292.8 354.2,296.8 363.3,300.0 362.0,306.9 363.5,317.0 364.9,320.2 M322.6,319.4 329.0,323.4 335.0,325.4 341.4,330.2 346.8,334.7 354.1,342.3 356.0,329.0 355.0,318.2 363.5,317.0 M364.9,320.2 375.2,317.0 377.2,309.3 382.5,308.1 387.3,304.1 384.9,301.3 390.2,290.8 M399.8,301.3 396.6,317.4 M411.1,302.1 409.0,315.7 M387.3,304.1 390.3,308.9 391.2,319.0 403.7,317.4 417.9,315.7 419.8,308.1 M317.5,338.7 320.4,343.1 323.9,339.1 335.0,325.4 M354.1,342.3 344.0,346.3 340.8,355.2 344.4,363.2 353.2,363.2 353.6,369.3 356.8,368.9 M356.8,368.9 360.2,376.9 358.9,386.2 359.8,392.2 359.5,395.4 356.7,398.8 M356.8,368.9 369.2,364.4 372.0,368.9 373.5,375.3 384.3,379.3 389.7,380.5 391.6,390.2 398.0,390.6 400.7,404.7 M359.5,395.4 363.3,401.5 365.8,410.7 370.4,416.8 377.3,413.9 384.9,413.5 M384.9,413.5 386.0,407.5 393.5,402.7 400.7,404.7 M370.4,416.8 367.4,425.6 367.7,433.7 366.1,441.7 366.2,449.8 368.1,457.8 368.5,465.9 369.2,473.9 372.3,485.9 373.2,493.9 376.6,501.8 379.4,509.8 380.4,517.6 381.8,525.4 387.3,531.3 398.5,533.6 M400.6,535.5 405.2,544.7 M384.9,413.5 395.6,421.6 402.2,431.6 412.0,435.3 415.1,428.0 M400.7,404.7 402.7,413.9 409.4,414.7 411.9,421.6 415.1,428.0 M415.1,428.0 418.8,434.5 413.1,437.7 407.7,446.5 407.5,453.8 408.2,461.8 M407.7,446.5 415.4,449.4 423.9,456.2 424.7,460.6 M598.8,183.7 598.8,191.0 591.8,197.8 574.2,209.9 574.0,213.5 558.6,213.5 M574.0,213.5 573.7,220.4 562.4,220.4 561.9,230.4 558.0,233.2 557.8,239.3 544.2,239.3 M574.0,215.1 587.1,224.4 581.2,224.4 583.8,259.0 584.4,262.6 563.0,263.0 560.1,265.8 559.5,260.6 545.5,259.8 M587.1,224.4 607.6,240.5 618.0,247.7 623.6,246.9 629.5,241.3 645.2,230.4 M633.7,176.5 632.6,185.8 636.6,203.5 638.3,208.3 637.9,218.4 640.0,224.4 644.9,230.4 M643.4,191.8 639.3,197.0 636.6,203.5 M689.6,197.8 690.5,236.5 731.9,236.5 M690.5,236.5 690.6,244.5 687.1,244.5 687.2,246.5 658.7,230.4 652.9,234.0 644.9,230.4 M658.7,230.4 657.4,241.7 650.9,269.5 M687.2,246.5 683.6,261.8 680.6,272.7 683.8,279.1 686.4,285.6 M618.0,247.7 615.4,263.0 607.6,263.4 603.7,265.0 M583.4,283.1 587.8,272.7 596.0,265.8 603.7,265.0 608.3,271.1 611.4,275.9 615.6,277.9 M615.6,277.9 617.4,270.7 626.9,272.3 634.7,273.5 647.1,272.3 650.9,269.5 M612.3,299.2 612.4,288.8 615.6,277.9 M632.9,306.5 636.5,298.8 644.3,296.8 647.1,290.0 650.6,282.7 654.5,275.9 652.7,272.3 M608.4,300.0 608.5,288.8 606.1,280.7 M607.0,300.5 604.6,292.8 602.9,280.7 M591.7,304.5 592.9,292.8 593.3,286.8 592.6,281.1 602.9,280.7 M576.1,307.3 572.3,294.4 573.7,290.8 574.9,284.0 583.4,283.1 M562.0,297.2 566.0,290.8 M555.7,286.8 563.9,288.8 566.0,290.8 M545.5,259.8 554.0,258.2 560.1,265.8 562.7,275.1 572.8,280.7 574.5,284.8 M544.0,275.1 554.6,274.3 562.7,275.1 M686.4,285.6 697.0,286.8 707.6,286.0 717.3,276.3 723.5,286.8 M723.5,286.8 727.9,275.5 731.6,267.5 732.9,253.0 738.4,252.6 M731.6,267.5 738.3,267.0 743.9,266.6 750.0,271.1 M750.1,274.7 754.2,280.7 M754.2,280.7 758.6,288.8 772.9,292.8 762.5,304.9 751.9,308.9 748.3,309.3 737.7,310.5 730.2,306.5 723.5,308.1 M723.5,286.8 719.7,292.8 727.0,304.9 723.5,308.1 M748.3,309.3 748.4,331.4 M723.5,308.1 727.1,318.6 723.5,325.0 723.5,329.0 736.6,337.5 741.9,343.9 M711.8,310.9 707.9,330.6 M711.8,310.9 723.5,308.1 M686.4,285.6 699.6,304.5 711.8,310.9 M657.7,294.8 668.7,292.8 675.4,288.8 683.8,280.7 M668.8,310.5 682.6,308.1 691.5,304.9 699.6,304.5 M653.8,300.0 655.3,307.3 660.3,316.1 M654.1,273.5 656.3,284.8 652.4,285.6 657.7,294.8 M668.8,310.5 665.6,329.0 660.3,333.5 657.0,342.3 646.0,349.1 M637.5,315.7 642.8,316.1 649.9,316.1 660.3,316.1 M649.9,316.1 653.9,333.0 642.8,340.7 M646.0,349.1 661.3,356.8 671.5,357.2 680.1,354.4 681.7,369.3 687.7,369.3 687.6,377.3 680.6,377.3 680.4,390.6 685.2,395.8 M687.7,369.3 692.3,370.1 701.8,374.9 708.1,378.5 M712.6,359.6 719.7,363.2 720.7,366.9 M644.6,394.6 652.3,395.0 666.3,395.0 676.8,397.4 685.2,395.8 691.9,396.6 M672.9,424.8 673.1,413.5 676.5,413.5 676.8,398.6 M660.6,440.1 672.6,439.3 672.9,424.8 M672.9,424.8 681.4,429.6 691.8,428.4 697.2,421.6 705.7,414.3 M691.9,396.6 694.1,404.7 700.3,407.9 705.7,414.3 M691.9,396.6 701.5,391.4 710.0,387.8 M710.0,387.8 719.0,391.4 718.0,401.5 716.7,409.5 712.3,415.1 714.4,423.6 717.1,433.3 M710.0,387.8 719.0,380.5 720.7,366.9 M719.3,381.3 728.9,390.2 M727.7,370.5 745.8,367.3 M720.5,199.0 723.4,206.3 M728.9,206.3 733.7,202.3 730.0,198.2 736.5,195.4 747.1,199.8 757.0,207.5 763.2,207.9 766.7,208.3 769.9,210.3 M753.4,259.0 757.5,255.0 768.1,256.6 785.2,248.5 795.4,244.5 797.3,236.5 794.6,233.6 783.9,228.4 782.4,227.2 M786.6,262.2 789.6,258.2 785.2,248.5 M725.1,180.1 728.2,177.7 734.8,177.3 745.6,175.7 742.6,181.7 742.5,186.6 735.4,190.6 736.5,195.4 M725.2,193.4 735.4,190.6 M745.6,175.7 753.9,175.3 758.2,180.9 759.8,185.8 758.1,188.2 766.9,200.2 769.7,204.3 M753.9,175.3 750.7,166.5 752.5,165.3 M784.0,174.9 790.5,172.1 804.5,176.1 808.8,177.7 808.2,188.2 814.3,199.0 812.1,205.1 819.5,211.5 821.0,218.4 816.7,223.6 M812.1,205.1 829.7,206.3 838.7,198.2 842.0,188.6 842.3,182.1 843.5,178.1 852.7,176.1 M808.8,177.7 814.1,182.9 820.9,175.3 830.2,175.3 837.3,174.1 841.9,172.5 852.3,174.5 M840.1,229.6 846.1,227.2 849.1,222.8 844.3,212.7 850.0,204.7 858.0,200.2 859.4,195.0 853.9,189.4 864.1,182.1 M864.1,182.1 870.0,186.2 871.1,194.2 873.0,200.2 878.2,202.3 882.0,202.7 891.9,209.9 906.1,212.7 909.7,215.1 911.1,211.5 918.5,212.7 921.7,213.1 925.7,207.5 932.3,206.7 938.2,211.5 M878.0,208.7 892.8,215.1 907.9,218.8 M913.2,237.3 911.3,227.6 909.1,224.4 913.6,220.0 922.5,224.0 921.4,230.4 924.3,231.2 925.4,239.7 M938.2,211.5 934.3,216.3 931.6,220.4 930.3,229.2 927.1,228.8 927.3,235.7 925.4,239.7 M938.2,211.5 944.4,224.4 941.6,228.8 949.6,236.1 955.9,238.5 958.2,234.9 963.9,233.6 973.5,232.8 979.6,238.5 M955.9,238.5 952.6,242.9 945.6,250.5 949.6,260.6 948.7,264.6 953.0,272.7 951.8,284.8 M952.6,242.9 957.0,246.5 957.0,254.6 962.7,253.0 970.8,258.2 974.6,267.0 M958.2,234.9 966.9,242.5 976.2,251.8 980.9,260.6 981.6,266.2 M965.1,274.7 965.9,267.5 974.6,267.0 981.6,266.2 977.6,280.7 972.5,283.1 M957.8,298.8 961.5,302.1 965.0,300.0 M879.8,127.7 890.2,121.8 903.8,124.6 906.0,116.8 919.7,119.5 934.0,123.4 942.3,127.3 951.6,127.3 959.9,123.4 967.5,125.3 M879.8,127.7 891.8,136.3 896.5,144.2 911.9,147.0 919.2,152.9 932.6,154.1 947.0,157.7 952.1,154.5 963.1,153.7 965.7,148.9 969.9,144.6 974.7,141.4 977.6,137.9 983.7,137.5 976.8,132.4 967.5,125.3 M967.5,125.3 972.2,126.5 975.6,123.4 972.9,114.5 978.1,111.0 989.0,113.7 1001.5,125.3 1013.1,128.8 1022.3,133.5 1027.6,131.2 1030.7,142.2 1024.4,145.0 1029.1,152.1 1027.9,154.1 M1027.9,154.1 1024.1,156.1 1021.9,158.1 1017.4,162.1 1013.0,164.5 M1022.8,172.9 1024.9,170.9 1028.9,169.7 M879.8,127.7 876.9,128.1 876.0,136.3 867.9,135.5 868.7,142.2 861.9,144.6 865.9,156.1 859.4,159.3 856.2,160.5 852.3,161.7 847.6,166.1 853.7,174.9 852.7,176.1 M878.4,128.1 875.0,125.7 863.3,120.7 853.2,121.4 841.7,111.8 836.8,108.7 829.0,111.0 817.7,104.2 810.8,105.7 803.3,108.0 792.0,109.1 792.4,113.0 795.1,116.8 790.6,117.2 785.5,120.7 778.9,122.2 770.9,118.7 762.8,118.0 757.2,123.0 753.3,123.4 753.1,130.4 755.8,132.8 760.6,136.7 M777.8,156.1 788.1,158.9 785.0,144.2 792.7,141.8 801.5,146.6 814.7,149.3 819.3,152.5 827.4,160.1 830.6,158.5 835.5,154.9 844.5,151.3 851.1,152.1 865.7,155.3 M788.1,158.9 793.4,154.9 800.5,156.1 804.4,159.3 810.0,164.1 817.9,168.5 825.8,174.5 M827.4,160.1 830.5,166.1 834.7,163.3 837.9,162.9 847.6,166.1 M577.1,156.5 579.4,155.7 584.5,156.5 583.3,160.1 582.5,166.1 581.3,170.1 582.1,172.1 580.6,175.3 M600.4,150.5 606.1,153.3 616.4,154.5 M615.5,120.3 620.0,123.4 622.4,124.6 625.4,126.5 627.3,126.5 632.8,128.8 630.9,133.9 627.4,136.7 625.8,139.5 628.9,140.6 628.8,147.4 630.4,148.9 M618.3,119.1 623.2,119.1 625.6,121.4 626.3,117.2 629.4,116.0 630.1,112.2 M625.6,121.4 627.3,126.5 M634.4,105.7 638.2,106.1 M651.1,109.5 652.4,114.9 653.8,120.7 651.9,120.7 644.9,123.4 650.3,129.2 647.8,134.3 640.0,134.3 636.9,133.9 630.9,133.9 M653.8,120.7 658.5,123.4 665.7,126.5 677.6,128.1 681.7,121.4 680.0,118.7 680.4,112.2 678.9,109.1 666.8,107.6 M650.3,129.2 654.0,128.5 660.2,130.0 665.7,126.5 M636.9,135.1 640.0,136.7 645.4,136.3 650.1,138.3 657.3,137.5 658.8,134.3 660.3,132.0 M628.9,140.6 633.7,138.7 636.8,139.1 640.0,138.3 645.4,136.3 M650.1,138.3 649.8,142.2 M657.3,137.5 660.3,132.0 666.0,133.2 676.5,130.8 678.8,132.8 674.8,139.5 671.0,139.8 666.3,140.6 659.3,138.3 M678.8,132.8 685.1,133.2 690.3,131.2 695.9,138.3 696.2,142.2 701.1,143.4 M679.1,148.2 686.6,149.3 692.9,147.8 698.1,148.9 M671.0,139.8 675.0,144.2 679.1,147.4 M666.3,140.6 668.7,144.2 668.3,150.1 672.4,154.9 678.5,154.9 680.4,158.9 M656.5,140.2 662.3,143.8 668.7,144.2 M657.7,150.1 664.2,152.1 668.3,150.1 M671.5,165.3 674.3,160.9 680.4,158.9 690.3,157.3 691.4,159.3 M670.8,156.1 674.3,160.9 M691.3,157.3 696.7,156.1 M680.0,118.7 690.3,118.3 701.4,119.5 705.3,116.4 712.8,118.0 716.5,122.2 724.9,124.9 731.3,126.1 731.4,133.2 727.1,135.9 M677.8,132.0 685.1,133.2 M690.3,131.2 693.0,130.4 698.5,132.8 701.6,138.3 696.2,142.2 M678.9,109.1 685.7,108.4 687.5,102.7 692.1,101.1 700.3,103.0 703.9,109.9 705.3,116.4 M670.9,101.1 679.6,100.4 687.5,102.7 M679.9,94.4 689.1,95.9 M692.1,101.1 689.1,95.9 690.0,88.8 M666.8,107.6 676.7,107.6 672.0,104.6 M689.4,84.4 694.7,81.8 698.0,76.0 693.1,72.8 694.0,68.5 690.5,63.2 687.7,57.3 686.5,54.6 M642.6,90.3 645.1,84.7 645.9,81.1 644.4,73.9 649.5,70.3 650.7,65.7 654.5,59.8 659.5,56.3 666.1,54.3 M666.1,54.3 674.0,58.0 676.0,63.9 676.4,65.7 M666.1,54.3 668.6,53.6 677.6,56.0 679.7,52.2 686.5,54.6 692.0,51.9 M734.9,150.5 743.1,151.7 748.2,153.3 755.1,156.5 763.3,156.9 M740.8,158.1 747.2,159.7 748.7,163.7 752.5,165.3 M747.2,159.7 752.3,159.3 757.1,158.5 755.1,156.5 M752.3,159.3 755.0,164.1 758.6,168.5 M752.5,165.3 758.6,168.5 763.8,170.5 766.8,170.5 M1103.7,335.5 1102.1,361.6 M992.2,317.4 999.0,321.0 1004.3,319.4 1010.7,317.8 1013.2,308.1 1020.3,308.1" fill="none" stroke="#fff" stroke-width="0.7" stroke-opacity="0.85" stroke-linejoin="round"/>
<circle cx="292.8" cy="262.6" r="25.1" fill="#fff" fill-opacity="0.5"/><circle cx="292.8" cy="262.6" r="23.5" fill="none" stroke="#e04a5c" stroke-width="2.9" stroke-opacity="0.42"/><circle cx="292.8" cy="262.6" r="23.5" fill="none" stroke="#a01828" stroke-width="1.1" stroke-opacity="0.34"/><circle cx="292.8" cy="262.6" r="18.5" fill="none" stroke="#e04a5c" stroke-width="2.9" stroke-opacity="0.5"/><circle cx="292.8" cy="262.6" r="18.5" fill="none" stroke="#a01828" stroke-width="1.1" stroke-opacity="0.40"/><circle cx="292.8" cy="262.6" r="13.5" fill="none" stroke="#e04a5c" stroke-width="2.9" stroke-opacity="0.63"/><circle cx="292.8" cy="262.6" r="13.5" fill="none" stroke="#a01828" stroke-width="1.1" stroke-opacity="0.50"/><circle cx="292.8" cy="262.6" r="8.5" fill="none" stroke="#e04a5c" stroke-width="2.9" stroke-opacity="0.8"/><circle cx="292.8" cy="262.6" r="8.5" fill="none" stroke="#a01828" stroke-width="1.1" stroke-opacity="0.64"/><circle cx="292.8" cy="262.6" r="3.8" fill="none" stroke="#d01030" stroke-width="3.2"/><circle cx="292.8" cy="262.6" r="3.8" fill="none" stroke="#8a0010" stroke-width="1.6"/><circle cx="292.8" cy="262.6" r="2.1" fill="#f8f6f0"/>
<circle cx="537.3" cy="560.4" r="25.1" fill="#fff" fill-opacity="0.5"/><circle cx="537.3" cy="560.4" r="23.5" fill="none" stroke="#cccc5a" stroke-width="2.9" stroke-opacity="0.42"/><circle cx="537.3" cy="560.4" r="23.5" fill="none" stroke="#6a6a40" stroke-width="1.1" stroke-opacity="0.34"/><circle cx="537.3" cy="560.4" r="18.5" fill="none" stroke="#cccc5a" stroke-width="2.9" stroke-opacity="0.5"/><circle cx="537.3" cy="560.4" r="18.5" fill="none" stroke="#6a6a40" stroke-width="1.1" stroke-opacity="0.40"/><circle cx="537.3" cy="560.4" r="13.5" fill="none" stroke="#cccc5a" stroke-width="2.9" stroke-opacity="0.63"/><circle cx="537.3" cy="560.4" r="13.5" fill="none" stroke="#6a6a40" stroke-width="1.1" stroke-opacity="0.50"/><circle cx="537.3" cy="560.4" r="8.5" fill="none" stroke="#cccc5a" stroke-width="2.9" stroke-opacity="0.8"/><circle cx="537.3" cy="560.4" r="8.5" fill="none" stroke="#6a6a40" stroke-width="1.1" stroke-opacity="0.64"/><circle cx="537.3" cy="560.4" r="3.8" fill="none" stroke="#b4b028" stroke-width="3.2"/><circle cx="537.3" cy="560.4" r="3.8" fill="none" stroke="#4e4e10" stroke-width="1.6"/><circle cx="537.3" cy="560.4" r="2.1" fill="#f8f6f0"/>
<circle cx="845.3" cy="411.2" r="25.1" fill="#fff" fill-opacity="0.5"/><circle cx="845.3" cy="411.2" r="23.5" fill="none" stroke="#e04a5c" stroke-width="2.9" stroke-opacity="0.42"/><circle cx="845.3" cy="411.2" r="23.5" fill="none" stroke="#a01828" stroke-width="1.1" stroke-opacity="0.34"/><circle cx="845.3" cy="411.2" r="18.5" fill="none" stroke="#e04a5c" stroke-width="2.9" stroke-opacity="0.5"/><circle cx="845.3" cy="411.2" r="18.5" fill="none" stroke="#a01828" stroke-width="1.1" stroke-opacity="0.40"/><circle cx="845.3" cy="411.2" r="13.5" fill="none" stroke="#e04a5c" stroke-width="2.9" stroke-opacity="0.63"/><circle cx="845.3" cy="411.2" r="13.5" fill="none" stroke="#a01828" stroke-width="1.1" stroke-opacity="0.50"/><circle cx="845.3" cy="411.2" r="8.5" fill="none" stroke="#e04a5c" stroke-width="2.9" stroke-opacity="0.8"/><circle cx="845.3" cy="411.2" r="8.5" fill="none" stroke="#a01828" stroke-width="1.1" stroke-opacity="0.64"/><circle cx="845.3" cy="411.2" r="3.8" fill="none" stroke="#d01030" stroke-width="3.2"/><circle cx="845.3" cy="411.2" r="3.8" fill="none" stroke="#8a0010" stroke-width="1.6"/><circle cx="845.3" cy="411.2" r="2.1" fill="#f8f6f0"/>
<circle cx="1222.1" cy="459.4" r="25.1" fill="#fff" fill-opacity="0.5"/><circle cx="1222.1" cy="459.4" r="23.5" fill="none" stroke="#5cbc5c" stroke-width="2.9" stroke-opacity="0.42"/><circle cx="1222.1" cy="459.4" r="23.5" fill="none" stroke="#2a7a30" stroke-width="1.1" stroke-opacity="0.34"/><circle cx="1222.1" cy="459.4" r="18.5" fill="none" stroke="#5cbc5c" stroke-width="2.9" stroke-opacity="0.5"/><circle cx="1222.1" cy="459.4" r="18.5" fill="none" stroke="#2a7a30" stroke-width="1.1" stroke-opacity="0.40"/><circle cx="1222.1" cy="459.4" r="13.5" fill="none" stroke="#5cbc5c" stroke-width="2.9" stroke-opacity="0.63"/><circle cx="1222.1" cy="459.4" r="13.5" fill="none" stroke="#2a7a30" stroke-width="1.1" stroke-opacity="0.50"/><circle cx="1222.1" cy="459.4" r="8.5" fill="none" stroke="#5cbc5c" stroke-width="2.9" stroke-opacity="0.8"/><circle cx="1222.1" cy="459.4" r="8.5" fill="none" stroke="#2a7a30" stroke-width="1.1" stroke-opacity="0.64"/><circle cx="1222.1" cy="459.4" r="3.8" fill="none" stroke="#22a022" stroke-width="3.2"/><circle cx="1222.1" cy="459.4" r="3.8" fill="none" stroke="#0a600a" stroke-width="1.6"/><circle cx="1222.1" cy="459.4" r="2.1" fill="#f8f6f0"/>
<circle cx="245.5" cy="52.6" r="20.1" fill="#fff" fill-opacity="0.5"/><circle cx="245.5" cy="52.6" r="18.5" fill="none" stroke="#e04a5c" stroke-width="2.9" stroke-opacity="0.5"/><circle cx="245.5" cy="52.6" r="18.5" fill="none" stroke="#a01828" stroke-width="1.1" stroke-opacity="0.40"/><circle cx="245.5" cy="52.6" r="13.5" fill="none" stroke="#e04a5c" stroke-width="2.9" stroke-opacity="0.63"/><circle cx="245.5" cy="52.6" r="13.5" fill="none" stroke="#a01828" stroke-width="1.1" stroke-opacity="0.50"/><circle cx="245.5" cy="52.6" r="8.5" fill="none" stroke="#e04a5c" stroke-width="2.9" stroke-opacity="0.8"/><circle cx="245.5" cy="52.6" r="8.5" fill="none" stroke="#a01828" stroke-width="1.1" stroke-opacity="0.64"/><circle cx="245.5" cy="52.6" r="3.8" fill="none" stroke="#d01030" stroke-width="3.2"/><circle cx="245.5" cy="52.6" r="3.8" fill="none" stroke="#8a0010" stroke-width="1.6"/><circle cx="245.5" cy="52.6" r="2.1" fill="#f8f6f0"/>
<circle cx="256.9" cy="106.8" r="20.1" fill="#fff" fill-opacity="0.5"/><circle cx="256.9" cy="106.8" r="18.5" fill="none" stroke="#e04a5c" stroke-width="2.9" stroke-opacity="0.5"/><circle cx="256.9" cy="106.8" r="18.5" fill="none" stroke="#a01828" stroke-width="1.1" stroke-opacity="0.40"/><circle cx="256.9" cy="106.8" r="13.5" fill="none" stroke="#e04a5c" stroke-width="2.9" stroke-opacity="0.63"/><circle cx="256.9" cy="106.8" r="13.5" fill="none" stroke="#a01828" stroke-width="1.1" stroke-opacity="0.50"/><circle cx="256.9" cy="106.8" r="8.5" fill="none" stroke="#e04a5c" stroke-width="2.9" stroke-opacity="0.8"/><circle cx="256.9" cy="106.8" r="8.5" fill="none" stroke="#a01828" stroke-width="1.1" stroke-opacity="0.64"/><circle cx="256.9" cy="106.8" r="3.8" fill="none" stroke="#d01030" stroke-width="3.2"/><circle cx="256.9" cy="106.8" r="3.8" fill="none" stroke="#8a0010" stroke-width="1.6"/><circle cx="256.9" cy="106.8" r="2.1" fill="#f8f6f0"/>
<circle cx="270.1" cy="256.1" r="20.1" fill="#fff" fill-opacity="0.5"/><circle cx="270.1" cy="256.1" r="18.5" fill="none" stroke="#6262e0" stroke-width="2.9" stroke-opacity="0.5"/><circle cx="270.1" cy="256.1" r="18.5" fill="none" stroke="#2020a0" stroke-width="1.1" stroke-opacity="0.40"/><circle cx="270.1" cy="256.1" r="13.5" fill="none" stroke="#6262e0" stroke-width="2.9" stroke-opacity="0.63"/><circle cx="270.1" cy="256.1" r="13.5" fill="none" stroke="#2020a0" stroke-width="1.1" stroke-opacity="0.50"/><circle cx="270.1" cy="256.1" r="8.5" fill="none" stroke="#6262e0" stroke-width="2.9" stroke-opacity="0.8"/><circle cx="270.1" cy="256.1" r="8.5" fill="none" stroke="#2020a0" stroke-width="1.1" stroke-opacity="0.64"/><circle cx="270.1" cy="256.1" r="3.8" fill="none" stroke="#2424d0" stroke-width="3.2"/><circle cx="270.1" cy="256.1" r="3.8" fill="none" stroke="#000090" stroke-width="1.6"/><circle cx="270.1" cy="256.1" r="2.1" fill="#f8f6f0"/>
<circle cx="346" cy="245.3" r="20.1" fill="#fff" fill-opacity="0.5"/><circle cx="346" cy="245.3" r="18.5" fill="none" stroke="#e04a5c" stroke-width="2.9" stroke-opacity="0.5"/><circle cx="346" cy="245.3" r="18.5" fill="none" stroke="#a01828" stroke-width="1.1" stroke-opacity="0.40"/><circle cx="346" cy="245.3" r="13.5" fill="none" stroke="#e04a5c" stroke-width="2.9" stroke-opacity="0.63"/><circle cx="346" cy="245.3" r="13.5" fill="none" stroke="#a01828" stroke-width="1.1" stroke-opacity="0.50"/><circle cx="346" cy="245.3" r="8.5" fill="none" stroke="#e04a5c" stroke-width="2.9" stroke-opacity="0.8"/><circle cx="346" cy="245.3" r="8.5" fill="none" stroke="#a01828" stroke-width="1.1" stroke-opacity="0.64"/><circle cx="346" cy="245.3" r="3.8" fill="none" stroke="#d01030" stroke-width="3.2"/><circle cx="346" cy="245.3" r="3.8" fill="none" stroke="#8a0010" stroke-width="1.6"/><circle cx="346" cy="245.3" r="2.1" fill="#f8f6f0"/>
<circle cx="373.5" cy="453.9" r="20.1" fill="#fff" fill-opacity="0.5"/><circle cx="373.5" cy="453.9" r="18.5" fill="none" stroke="#e04a5c" stroke-width="2.9" stroke-opacity="0.5"/><circle cx="373.5" cy="453.9" r="18.5" fill="none" stroke="#a01828" stroke-width="1.1" stroke-opacity="0.40"/><circle cx="373.5" cy="453.9" r="13.5" fill="none" stroke="#e04a5c" stroke-width="2.9" stroke-opacity="0.63"/><circle cx="373.5" cy="453.9" r="13.5" fill="none" stroke="#a01828" stroke-width="1.1" stroke-opacity="0.50"/><circle cx="373.5" cy="453.9" r="8.5" fill="none" stroke="#e04a5c" stroke-width="2.9" stroke-opacity="0.8"/><circle cx="373.5" cy="453.9" r="8.5" fill="none" stroke="#a01828" stroke-width="1.1" stroke-opacity="0.64"/><circle cx="373.5" cy="453.9" r="3.8" fill="none" stroke="#d01030" stroke-width="3.2"/><circle cx="373.5" cy="453.9" r="3.8" fill="none" stroke="#8a0010" stroke-width="1.6"/><circle cx="373.5" cy="453.9" r="2.1" fill="#f8f6f0"/>
<circle cx="843.5" cy="178" r="20.1" fill="#fff" fill-opacity="0.5"/><circle cx="843.5" cy="178" r="18.5" fill="none" stroke="#5cbc5c" stroke-width="2.9" stroke-opacity="0.5"/><circle cx="843.5" cy="178" r="18.5" fill="none" stroke="#2a7a30" stroke-width="1.1" stroke-opacity="0.40"/><circle cx="843.5" cy="178" r="13.5" fill="none" stroke="#5cbc5c" stroke-width="2.9" stroke-opacity="0.63"/><circle cx="843.5" cy="178" r="13.5" fill="none" stroke="#2a7a30" stroke-width="1.1" stroke-opacity="0.50"/><circle cx="843.5" cy="178" r="8.5" fill="none" stroke="#5cbc5c" stroke-width="2.9" stroke-opacity="0.8"/><circle cx="843.5" cy="178" r="8.5" fill="none" stroke="#2a7a30" stroke-width="1.1" stroke-opacity="0.64"/><circle cx="843.5" cy="178" r="3.8" fill="none" stroke="#22a022" stroke-width="3.2"/><circle cx="843.5" cy="178" r="3.8" fill="none" stroke="#0a600a" stroke-width="1.6"/><circle cx="843.5" cy="178" r="2.1" fill="#f8f6f0"/>
<circle cx="1025.8" cy="258.7" r="20.1" fill="#fff" fill-opacity="0.5"/><circle cx="1025.8" cy="258.7" r="18.5" fill="none" stroke="#e04a5c" stroke-width="2.9" stroke-opacity="0.5"/><circle cx="1025.8" cy="258.7" r="18.5" fill="none" stroke="#a01828" stroke-width="1.1" stroke-opacity="0.40"/><circle cx="1025.8" cy="258.7" r="13.5" fill="none" stroke="#e04a5c" stroke-width="2.9" stroke-opacity="0.63"/><circle cx="1025.8" cy="258.7" r="13.5" fill="none" stroke="#a01828" stroke-width="1.1" stroke-opacity="0.50"/><circle cx="1025.8" cy="258.7" r="8.5" fill="none" stroke="#e04a5c" stroke-width="2.9" stroke-opacity="0.8"/><circle cx="1025.8" cy="258.7" r="8.5" fill="none" stroke="#a01828" stroke-width="1.1" stroke-opacity="0.64"/><circle cx="1025.8" cy="258.7" r="3.8" fill="none" stroke="#d01030" stroke-width="3.2"/><circle cx="1025.8" cy="258.7" r="3.8" fill="none" stroke="#8a0010" stroke-width="1.6"/><circle cx="1025.8" cy="258.7" r="2.1" fill="#f8f6f0"/>
<circle cx="1115.5" cy="252.2" r="20.1" fill="#fff" fill-opacity="0.5"/><circle cx="1115.5" cy="252.2" r="18.5" fill="none" stroke="#8a7ac8" stroke-width="2.9" stroke-opacity="0.5"/><circle cx="1115.5" cy="252.2" r="18.5" fill="none" stroke="#3a2a80" stroke-width="1.1" stroke-opacity="0.40"/><circle cx="1115.5" cy="252.2" r="13.5" fill="none" stroke="#8a7ac8" stroke-width="2.9" stroke-opacity="0.63"/><circle cx="1115.5" cy="252.2" r="13.5" fill="none" stroke="#3a2a80" stroke-width="1.1" stroke-opacity="0.50"/><circle cx="1115.5" cy="252.2" r="8.5" fill="none" stroke="#8a7ac8" stroke-width="2.9" stroke-opacity="0.8"/><circle cx="1115.5" cy="252.2" r="8.5" fill="none" stroke="#3a2a80" stroke-width="1.1" stroke-opacity="0.64"/><circle cx="1115.5" cy="252.2" r="3.8" fill="none" stroke="#4a3aa0" stroke-width="3.2"/><circle cx="1115.5" cy="252.2" r="3.8" fill="none" stroke="#200a70" stroke-width="1.6"/><circle cx="1115.5" cy="252.2" r="2.1" fill="#f8f6f0"/>
<circle cx="1051.7" cy="305.7" r="20.1" fill="#fff" fill-opacity="0.5"/><circle cx="1051.7" cy="305.7" r="18.5" fill="none" stroke="#6262e0" stroke-width="2.9" stroke-opacity="0.5"/><circle cx="1051.7" cy="305.7" r="18.5" fill="none" stroke="#2020a0" stroke-width="1.1" stroke-opacity="0.40"/><circle cx="1051.7" cy="305.7" r="13.5" fill="none" stroke="#6262e0" stroke-width="2.9" stroke-opacity="0.63"/><circle cx="1051.7" cy="305.7" r="13.5" fill="none" stroke="#2020a0" stroke-width="1.1" stroke-opacity="0.50"/><circle cx="1051.7" cy="305.7" r="8.5" fill="none" stroke="#6262e0" stroke-width="2.9" stroke-opacity="0.8"/><circle cx="1051.7" cy="305.7" r="8.5" fill="none" stroke="#2020a0" stroke-width="1.1" stroke-opacity="0.64"/><circle cx="1051.7" cy="305.7" r="3.8" fill="none" stroke="#2424d0" stroke-width="3.2"/><circle cx="1051.7" cy="305.7" r="3.8" fill="none" stroke="#000090" stroke-width="1.6"/><circle cx="1051.7" cy="305.7" r="2.1" fill="#f8f6f0"/>
<circle cx="973.2" cy="318.4" r="20.1" fill="#fff" fill-opacity="0.5"/><circle cx="973.2" cy="318.4" r="18.5" fill="none" stroke="#8a7ac8" stroke-width="2.9" stroke-opacity="0.5"/><circle cx="973.2" cy="318.4" r="18.5" fill="none" stroke="#3a2a80" stroke-width="1.1" stroke-opacity="0.40"/><circle cx="973.2" cy="318.4" r="13.5" fill="none" stroke="#8a7ac8" stroke-width="2.9" stroke-opacity="0.63"/><circle cx="973.2" cy="318.4" r="13.5" fill="none" stroke="#3a2a80" stroke-width="1.1" stroke-opacity="0.50"/><circle cx="973.2" cy="318.4" r="8.5" fill="none" stroke="#8a7ac8" stroke-width="2.9" stroke-opacity="0.8"/><circle cx="973.2" cy="318.4" r="8.5" fill="none" stroke="#3a2a80" stroke-width="1.1" stroke-opacity="0.64"/><circle cx="973.2" cy="318.4" r="3.8" fill="none" stroke="#4a3aa0" stroke-width="3.2"/><circle cx="973.2" cy="318.4" r="3.8" fill="none" stroke="#200a70" stroke-width="1.6"/><circle cx="973.2" cy="318.4" r="2.1" fill="#f8f6f0"/>
<circle cx="972.3" cy="351.6" r="20.1" fill="#fff" fill-opacity="0.5"/><circle cx="972.3" cy="351.6" r="18.5" fill="none" stroke="#cccc5a" stroke-width="2.9" stroke-opacity="0.5"/><circle cx="972.3" cy="351.6" r="18.5" fill="none" stroke="#6a6a40" stroke-width="1.1" stroke-opacity="0.40"/><circle cx="972.3" cy="351.6" r="13.5" fill="none" stroke="#cccc5a" stroke-width="2.9" stroke-opacity="0.63"/><circle cx="972.3" cy="351.6" r="13.5" fill="none" stroke="#6a6a40" stroke-width="1.1" stroke-opacity="0.50"/><circle cx="972.3" cy="351.6" r="8.5" fill="none" stroke="#cccc5a" stroke-width="2.9" stroke-opacity="0.8"/><circle cx="972.3" cy="351.6" r="8.5" fill="none" stroke="#6a6a40" stroke-width="1.1" stroke-opacity="0.64"/><circle cx="972.3" cy="351.6" r="3.8" fill="none" stroke="#b4b028" stroke-width="3.2"/><circle cx="972.3" cy="351.6" r="3.8" fill="none" stroke="#4e4e10" stroke-width="1.6"/><circle cx="972.3" cy="351.6" r="2.1" fill="#f8f6f0"/>
<circle cx="999.8" cy="369.3" r="20.1" fill="#fff" fill-opacity="0.5"/><circle cx="999.8" cy="369.3" r="18.5" fill="none" stroke="#cccc5a" stroke-width="2.9" stroke-opacity="0.5"/><circle cx="999.8" cy="369.3" r="18.5" fill="none" stroke="#6a6a40" stroke-width="1.1" stroke-opacity="0.40"/><circle cx="999.8" cy="369.3" r="13.5" fill="none" stroke="#cccc5a" stroke-width="2.9" stroke-opacity="0.63"/><circle cx="999.8" cy="369.3" r="13.5" fill="none" stroke="#6a6a40" stroke-width="1.1" stroke-opacity="0.50"/><circle cx="999.8" cy="369.3" r="8.5" fill="none" stroke="#cccc5a" stroke-width="2.9" stroke-opacity="0.8"/><circle cx="999.8" cy="369.3" r="8.5" fill="none" stroke="#6a6a40" stroke-width="1.1" stroke-opacity="0.64"/><circle cx="999.8" cy="369.3" r="3.8" fill="none" stroke="#b4b028" stroke-width="3.2"/><circle cx="999.8" cy="369.3" r="3.8" fill="none" stroke="#4e4e10" stroke-width="1.6"/><circle cx="999.8" cy="369.3" r="2.1" fill="#f8f6f0"/>
<circle cx="1069.4" cy="359.5" r="20.1" fill="#fff" fill-opacity="0.5"/><circle cx="1069.4" cy="359.5" r="18.5" fill="none" stroke="#e04a5c" stroke-width="2.9" stroke-opacity="0.5"/><circle cx="1069.4" cy="359.5" r="18.5" fill="none" stroke="#a01828" stroke-width="1.1" stroke-opacity="0.40"/><circle cx="1069.4" cy="359.5" r="13.5" fill="none" stroke="#e04a5c" stroke-width="2.9" stroke-opacity="0.63"/><circle cx="1069.4" cy="359.5" r="13.5" fill="none" stroke="#a01828" stroke-width="1.1" stroke-opacity="0.50"/><circle cx="1069.4" cy="359.5" r="8.5" fill="none" stroke="#e04a5c" stroke-width="2.9" stroke-opacity="0.8"/><circle cx="1069.4" cy="359.5" r="8.5" fill="none" stroke="#a01828" stroke-width="1.1" stroke-opacity="0.64"/><circle cx="1069.4" cy="359.5" r="3.8" fill="none" stroke="#d01030" stroke-width="3.2"/><circle cx="1069.4" cy="359.5" r="3.8" fill="none" stroke="#8a0010" stroke-width="1.6"/><circle cx="1069.4" cy="359.5" r="2.1" fill="#f8f6f0"/>
<circle cx="1093.6" cy="113.4" r="20.1" fill="#fff" fill-opacity="0.5"/><circle cx="1093.6" cy="113.4" r="18.5" fill="none" stroke="#cccc5a" stroke-width="2.9" stroke-opacity="0.5"/><circle cx="1093.6" cy="113.4" r="18.5" fill="none" stroke="#6a6a40" stroke-width="1.1" stroke-opacity="0.40"/><circle cx="1093.6" cy="113.4" r="13.5" fill="none" stroke="#cccc5a" stroke-width="2.9" stroke-opacity="0.63"/><circle cx="1093.6" cy="113.4" r="13.5" fill="none" stroke="#6a6a40" stroke-width="1.1" stroke-opacity="0.50"/><circle cx="1093.6" cy="113.4" r="8.5" fill="none" stroke="#cccc5a" stroke-width="2.9" stroke-opacity="0.8"/><circle cx="1093.6" cy="113.4" r="8.5" fill="none" stroke="#6a6a40" stroke-width="1.1" stroke-opacity="0.64"/><circle cx="1093.6" cy="113.4" r="3.8" fill="none" stroke="#b4b028" stroke-width="3.2"/><circle cx="1093.6" cy="113.4" r="3.8" fill="none" stroke="#4e4e10" stroke-width="1.6"/><circle cx="1093.6" cy="113.4" r="2.1" fill="#f8f6f0"/>
<circle cx="1157.9" cy="117.8" r="20.1" fill="#fff" fill-opacity="0.5"/><circle cx="1157.9" cy="117.8" r="18.5" fill="none" stroke="#5cbc5c" stroke-width="2.9" stroke-opacity="0.5"/><circle cx="1157.9" cy="117.8" r="18.5" fill="none" stroke="#2a7a30" stroke-width="1.1" stroke-opacity="0.40"/><circle cx="1157.9" cy="117.8" r="13.5" fill="none" stroke="#5cbc5c" stroke-width="2.9" stroke-opacity="0.63"/><circle cx="1157.9" cy="117.8" r="13.5" fill="none" stroke="#2a7a30" stroke-width="1.1" stroke-opacity="0.50"/><circle cx="1157.9" cy="117.8" r="8.5" fill="none" stroke="#5cbc5c" stroke-width="2.9" stroke-opacity="0.8"/><circle cx="1157.9" cy="117.8" r="8.5" fill="none" stroke="#2a7a30" stroke-width="1.1" stroke-opacity="0.64"/><circle cx="1157.9" cy="117.8" r="3.8" fill="none" stroke="#22a022" stroke-width="3.2"/><circle cx="1157.9" cy="117.8" r="3.8" fill="none" stroke="#0a600a" stroke-width="1.6"/><circle cx="1157.9" cy="117.8" r="2.1" fill="#f8f6f0"/>
<circle cx="1070.1" cy="160.1" r="20.1" fill="#fff" fill-opacity="0.5"/><circle cx="1070.1" cy="160.1" r="18.5" fill="none" stroke="#5cbc5c" stroke-width="2.9" stroke-opacity="0.5"/><circle cx="1070.1" cy="160.1" r="18.5" fill="none" stroke="#2a7a30" stroke-width="1.1" stroke-opacity="0.40"/><circle cx="1070.1" cy="160.1" r="13.5" fill="none" stroke="#5cbc5c" stroke-width="2.9" stroke-opacity="0.63"/><circle cx="1070.1" cy="160.1" r="13.5" fill="none" stroke="#2a7a30" stroke-width="1.1" stroke-opacity="0.50"/><circle cx="1070.1" cy="160.1" r="8.5" fill="none" stroke="#5cbc5c" stroke-width="2.9" stroke-opacity="0.8"/><circle cx="1070.1" cy="160.1" r="8.5" fill="none" stroke="#2a7a30" stroke-width="1.1" stroke-opacity="0.64"/><circle cx="1070.1" cy="160.1" r="3.8" fill="none" stroke="#22a022" stroke-width="3.2"/><circle cx="1070.1" cy="160.1" r="3.8" fill="none" stroke="#0a600a" stroke-width="1.6"/><circle cx="1070.1" cy="160.1" r="2.1" fill="#f8f6f0"/>
<circle cx="1086.1" cy="194" r="20.1" fill="#fff" fill-opacity="0.5"/><circle cx="1086.1" cy="194" r="18.5" fill="none" stroke="#e04a5c" stroke-width="2.9" stroke-opacity="0.5"/><circle cx="1086.1" cy="194" r="18.5" fill="none" stroke="#a01828" stroke-width="1.1" stroke-opacity="0.40"/><circle cx="1086.1" cy="194" r="13.5" fill="none" stroke="#e04a5c" stroke-width="2.9" stroke-opacity="0.63"/><circle cx="1086.1" cy="194" r="13.5" fill="none" stroke="#a01828" stroke-width="1.1" stroke-opacity="0.50"/><circle cx="1086.1" cy="194" r="8.5" fill="none" stroke="#e04a5c" stroke-width="2.9" stroke-opacity="0.8"/><circle cx="1086.1" cy="194" r="8.5" fill="none" stroke="#a01828" stroke-width="1.1" stroke-opacity="0.64"/><circle cx="1086.1" cy="194" r="3.8" fill="none" stroke="#d01030" stroke-width="3.2"/><circle cx="1086.1" cy="194" r="3.8" fill="none" stroke="#8a0010" stroke-width="1.6"/><circle cx="1086.1" cy="194" r="2.1" fill="#f8f6f0"/>
<circle cx="1193.5" cy="398.4" r="20.1" fill="#fff" fill-opacity="0.5"/><circle cx="1193.5" cy="398.4" r="18.5" fill="none" stroke="#5cbc5c" stroke-width="2.9" stroke-opacity="0.5"/><circle cx="1193.5" cy="398.4" r="18.5" fill="none" stroke="#2a7a30" stroke-width="1.1" stroke-opacity="0.40"/><circle cx="1193.5" cy="398.4" r="13.5" fill="none" stroke="#5cbc5c" stroke-width="2.9" stroke-opacity="0.63"/><circle cx="1193.5" cy="398.4" r="13.5" fill="none" stroke="#2a7a30" stroke-width="1.1" stroke-opacity="0.50"/><circle cx="1193.5" cy="398.4" r="8.5" fill="none" stroke="#5cbc5c" stroke-width="2.9" stroke-opacity="0.8"/><circle cx="1193.5" cy="398.4" r="8.5" fill="none" stroke="#2a7a30" stroke-width="1.1" stroke-opacity="0.64"/><circle cx="1193.5" cy="398.4" r="3.8" fill="none" stroke="#22a022" stroke-width="3.2"/><circle cx="1193.5" cy="398.4" r="3.8" fill="none" stroke="#0a600a" stroke-width="1.6"/><circle cx="1193.5" cy="398.4" r="2.1" fill="#f8f6f0"/>
<circle cx="1243.6" cy="402.7" r="20.1" fill="#fff" fill-opacity="0.5"/><circle cx="1243.6" cy="402.7" r="18.5" fill="none" stroke="#8a7ac8" stroke-width="2.9" stroke-opacity="0.5"/><circle cx="1243.6" cy="402.7" r="18.5" fill="none" stroke="#3a2a80" stroke-width="1.1" stroke-opacity="0.40"/><circle cx="1243.6" cy="402.7" r="13.5" fill="none" stroke="#8a7ac8" stroke-width="2.9" stroke-opacity="0.63"/><circle cx="1243.6" cy="402.7" r="13.5" fill="none" stroke="#3a2a80" stroke-width="1.1" stroke-opacity="0.50"/><circle cx="1243.6" cy="402.7" r="8.5" fill="none" stroke="#8a7ac8" stroke-width="2.9" stroke-opacity="0.8"/><circle cx="1243.6" cy="402.7" r="8.5" fill="none" stroke="#3a2a80" stroke-width="1.1" stroke-opacity="0.64"/><circle cx="1243.6" cy="402.7" r="3.8" fill="none" stroke="#4a3aa0" stroke-width="3.2"/><circle cx="1243.6" cy="402.7" r="3.8" fill="none" stroke="#200a70" stroke-width="1.6"/><circle cx="1243.6" cy="402.7" r="2.1" fill="#f8f6f0"/>
<circle cx="1227" cy="438.7" r="20.1" fill="#fff" fill-opacity="0.5"/><circle cx="1227" cy="438.7" r="18.5" fill="none" stroke="#8a7ac8" stroke-width="2.9" stroke-opacity="0.5"/><circle cx="1227" cy="438.7" r="18.5" fill="none" stroke="#3a2a80" stroke-width="1.1" stroke-opacity="0.40"/><circle cx="1227" cy="438.7" r="13.5" fill="none" stroke="#8a7ac8" stroke-width="2.9" stroke-opacity="0.63"/><circle cx="1227" cy="438.7" r="13.5" fill="none" stroke="#3a2a80" stroke-width="1.1" stroke-opacity="0.50"/><circle cx="1227" cy="438.7" r="8.5" fill="none" stroke="#8a7ac8" stroke-width="2.9" stroke-opacity="0.8"/><circle cx="1227" cy="438.7" r="8.5" fill="none" stroke="#3a2a80" stroke-width="1.1" stroke-opacity="0.64"/><circle cx="1227" cy="438.7" r="3.8" fill="none" stroke="#4a3aa0" stroke-width="3.2"/><circle cx="1227" cy="438.7" r="3.8" fill="none" stroke="#200a70" stroke-width="1.6"/><circle cx="1227" cy="438.7" r="2.1" fill="#f8f6f0"/>
<circle cx="198.8" cy="76.3" r="15.1" fill="#fff" fill-opacity="0.5"/><circle cx="198.8" cy="76.3" r="13.5" fill="none" stroke="#5cbc5c" stroke-width="2.9" stroke-opacity="0.63"/><circle cx="198.8" cy="76.3" r="13.5" fill="none" stroke="#2a7a30" stroke-width="1.1" stroke-opacity="0.50"/><circle cx="198.8" cy="76.3" r="8.5" fill="none" stroke="#5cbc5c" stroke-width="2.9" stroke-opacity="0.8"/><circle cx="198.8" cy="76.3" r="8.5" fill="none" stroke="#2a7a30" stroke-width="1.1" stroke-opacity="0.64"/><circle cx="198.8" cy="76.3" r="3.8" fill="none" stroke="#22a022" stroke-width="3.2"/><circle cx="198.8" cy="76.3" r="3.8" fill="none" stroke="#0a600a" stroke-width="1.6"/><circle cx="198.8" cy="76.3" r="2.1" fill="#f8f6f0"/>
<circle cx="222.7" cy="212.2" r="15.1" fill="#fff" fill-opacity="0.5"/><circle cx="222.7" cy="212.2" r="13.5" fill="none" stroke="#e04a5c" stroke-width="2.9" stroke-opacity="0.63"/><circle cx="222.7" cy="212.2" r="13.5" fill="none" stroke="#a01828" stroke-width="1.1" stroke-opacity="0.50"/><circle cx="222.7" cy="212.2" r="8.5" fill="none" stroke="#e04a5c" stroke-width="2.9" stroke-opacity="0.8"/><circle cx="222.7" cy="212.2" r="8.5" fill="none" stroke="#a01828" stroke-width="1.1" stroke-opacity="0.64"/><circle cx="222.7" cy="212.2" r="3.8" fill="none" stroke="#d01030" stroke-width="3.2"/><circle cx="222.7" cy="212.2" r="3.8" fill="none" stroke="#8a0010" stroke-width="1.6"/><circle cx="222.7" cy="212.2" r="2.1" fill="#f8f6f0"/>
<circle cx="250.4" cy="252.5" r="15.1" fill="#fff" fill-opacity="0.5"/><circle cx="250.4" cy="252.5" r="13.5" fill="none" stroke="#cccc5a" stroke-width="2.9" stroke-opacity="0.63"/><circle cx="250.4" cy="252.5" r="13.5" fill="none" stroke="#6a6a40" stroke-width="1.1" stroke-opacity="0.50"/><circle cx="250.4" cy="252.5" r="8.5" fill="none" stroke="#cccc5a" stroke-width="2.9" stroke-opacity="0.8"/><circle cx="250.4" cy="252.5" r="8.5" fill="none" stroke="#6a6a40" stroke-width="1.1" stroke-opacity="0.64"/><circle cx="250.4" cy="252.5" r="3.8" fill="none" stroke="#b4b028" stroke-width="3.2"/><circle cx="250.4" cy="252.5" r="3.8" fill="none" stroke="#4e4e10" stroke-width="1.6"/><circle cx="250.4" cy="252.5" r="2.1" fill="#f8f6f0"/>
<circle cx="382.6" cy="248.9" r="15.1" fill="#fff" fill-opacity="0.5"/><circle cx="382.6" cy="248.9" r="13.5" fill="none" stroke="#e04a5c" stroke-width="2.9" stroke-opacity="0.63"/><circle cx="382.6" cy="248.9" r="13.5" fill="none" stroke="#a01828" stroke-width="1.1" stroke-opacity="0.50"/><circle cx="382.6" cy="248.9" r="8.5" fill="none" stroke="#e04a5c" stroke-width="2.9" stroke-opacity="0.8"/><circle cx="382.6" cy="248.9" r="8.5" fill="none" stroke="#a01828" stroke-width="1.1" stroke-opacity="0.64"/><circle cx="382.6" cy="248.9" r="3.8" fill="none" stroke="#d01030" stroke-width="3.2"/><circle cx="382.6" cy="248.9" r="3.8" fill="none" stroke="#8a0010" stroke-width="1.6"/><circle cx="382.6" cy="248.9" r="2.1" fill="#f8f6f0"/>
<circle cx="333.9" cy="375.2" r="15.1" fill="#fff" fill-opacity="0.5"/><circle cx="333.9" cy="375.2" r="13.5" fill="none" stroke="#cccc5a" stroke-width="2.9" stroke-opacity="0.63"/><circle cx="333.9" cy="375.2" r="13.5" fill="none" stroke="#6a6a40" stroke-width="1.1" stroke-opacity="0.50"/><circle cx="333.9" cy="375.2" r="8.5" fill="none" stroke="#cccc5a" stroke-width="2.9" stroke-opacity="0.8"/><circle cx="333.9" cy="375.2" r="8.5" fill="none" stroke="#6a6a40" stroke-width="1.1" stroke-opacity="0.64"/><circle cx="333.9" cy="375.2" r="3.8" fill="none" stroke="#b4b028" stroke-width="3.2"/><circle cx="333.9" cy="375.2" r="3.8" fill="none" stroke="#4e4e10" stroke-width="1.6"/><circle cx="333.9" cy="375.2" r="2.1" fill="#f8f6f0"/>
<circle cx="361.9" cy="400.4" r="15.1" fill="#fff" fill-opacity="0.5"/><circle cx="361.9" cy="400.4" r="13.5" fill="none" stroke="#6262e0" stroke-width="2.9" stroke-opacity="0.63"/><circle cx="361.9" cy="400.4" r="13.5" fill="none" stroke="#2020a0" stroke-width="1.1" stroke-opacity="0.50"/><circle cx="361.9" cy="400.4" r="8.5" fill="none" stroke="#6262e0" stroke-width="2.9" stroke-opacity="0.8"/><circle cx="361.9" cy="400.4" r="8.5" fill="none" stroke="#2020a0" stroke-width="1.1" stroke-opacity="0.64"/><circle cx="361.9" cy="400.4" r="3.8" fill="none" stroke="#2424d0" stroke-width="3.2"/><circle cx="361.9" cy="400.4" r="3.8" fill="none" stroke="#000090" stroke-width="1.6"/><circle cx="361.9" cy="400.4" r="2.1" fill="#f8f6f0"/>
<circle cx="361.4" cy="428.7" r="15.1" fill="#fff" fill-opacity="0.5"/><circle cx="361.4" cy="428.7" r="13.5" fill="none" stroke="#cccc5a" stroke-width="2.9" stroke-opacity="0.63"/><circle cx="361.4" cy="428.7" r="13.5" fill="none" stroke="#6a6a40" stroke-width="1.1" stroke-opacity="0.50"/><circle cx="361.4" cy="428.7" r="8.5" fill="none" stroke="#cccc5a" stroke-width="2.9" stroke-opacity="0.8"/><circle cx="361.4" cy="428.7" r="8.5" fill="none" stroke="#6a6a40" stroke-width="1.1" stroke-opacity="0.64"/><circle cx="361.4" cy="428.7" r="3.8" fill="none" stroke="#b4b028" stroke-width="3.2"/><circle cx="361.4" cy="428.7" r="3.8" fill="none" stroke="#4e4e10" stroke-width="1.6"/><circle cx="361.4" cy="428.7" r="2.1" fill="#f8f6f0"/>
<circle cx="696.5" cy="182" r="15.1" fill="#fff" fill-opacity="0.5"/><circle cx="696.5" cy="182" r="13.5" fill="none" stroke="#e04a5c" stroke-width="2.9" stroke-opacity="0.63"/><circle cx="696.5" cy="182" r="13.5" fill="none" stroke="#a01828" stroke-width="1.1" stroke-opacity="0.50"/><circle cx="696.5" cy="182" r="8.5" fill="none" stroke="#e04a5c" stroke-width="2.9" stroke-opacity="0.8"/><circle cx="696.5" cy="182" r="8.5" fill="none" stroke="#a01828" stroke-width="1.1" stroke-opacity="0.64"/><circle cx="696.5" cy="182" r="3.8" fill="none" stroke="#d01030" stroke-width="3.2"/><circle cx="696.5" cy="182" r="3.8" fill="none" stroke="#8a0010" stroke-width="1.6"/><circle cx="696.5" cy="182" r="2.1" fill="#f8f6f0"/>
<circle cx="767" cy="154.9" r="15.1" fill="#fff" fill-opacity="0.5"/><circle cx="767" cy="154.9" r="13.5" fill="none" stroke="#cccc5a" stroke-width="2.9" stroke-opacity="0.63"/><circle cx="767" cy="154.9" r="13.5" fill="none" stroke="#6a6a40" stroke-width="1.1" stroke-opacity="0.50"/><circle cx="767" cy="154.9" r="8.5" fill="none" stroke="#cccc5a" stroke-width="2.9" stroke-opacity="0.8"/><circle cx="767" cy="154.9" r="8.5" fill="none" stroke="#6a6a40" stroke-width="1.1" stroke-opacity="0.64"/><circle cx="767" cy="154.9" r="3.8" fill="none" stroke="#b4b028" stroke-width="3.2"/><circle cx="767" cy="154.9" r="3.8" fill="none" stroke="#4e4e10" stroke-width="1.6"/><circle cx="767" cy="154.9" r="2.1" fill="#f8f6f0"/>
<circle cx="947.3" cy="255.9" r="15.1" fill="#fff" fill-opacity="0.5"/><circle cx="947.3" cy="255.9" r="13.5" fill="none" stroke="#e04a5c" stroke-width="2.9" stroke-opacity="0.63"/><circle cx="947.3" cy="255.9" r="13.5" fill="none" stroke="#a01828" stroke-width="1.1" stroke-opacity="0.50"/><circle cx="947.3" cy="255.9" r="8.5" fill="none" stroke="#e04a5c" stroke-width="2.9" stroke-opacity="0.8"/><circle cx="947.3" cy="255.9" r="8.5" fill="none" stroke="#a01828" stroke-width="1.1" stroke-opacity="0.64"/><circle cx="947.3" cy="255.9" r="3.8" fill="none" stroke="#d01030" stroke-width="3.2"/><circle cx="947.3" cy="255.9" r="3.8" fill="none" stroke="#8a0010" stroke-width="1.6"/><circle cx="947.3" cy="255.9" r="2.1" fill="#f8f6f0"/>
<circle cx="951.3" cy="306.5" r="15.1" fill="#fff" fill-opacity="0.5"/><circle cx="951.3" cy="306.5" r="13.5" fill="none" stroke="#e04a5c" stroke-width="2.9" stroke-opacity="0.63"/><circle cx="951.3" cy="306.5" r="13.5" fill="none" stroke="#a01828" stroke-width="1.1" stroke-opacity="0.50"/><circle cx="951.3" cy="306.5" r="8.5" fill="none" stroke="#e04a5c" stroke-width="2.9" stroke-opacity="0.8"/><circle cx="951.3" cy="306.5" r="8.5" fill="none" stroke="#a01828" stroke-width="1.1" stroke-opacity="0.64"/><circle cx="951.3" cy="306.5" r="3.8" fill="none" stroke="#d01030" stroke-width="3.2"/><circle cx="951.3" cy="306.5" r="3.8" fill="none" stroke="#8a0010" stroke-width="1.6"/><circle cx="951.3" cy="306.5" r="2.1" fill="#f8f6f0"/>
<circle cx="1027.3" cy="364.7" r="15.1" fill="#fff" fill-opacity="0.5"/><circle cx="1027.3" cy="364.7" r="13.5" fill="none" stroke="#e04a5c" stroke-width="2.9" stroke-opacity="0.63"/><circle cx="1027.3" cy="364.7" r="13.5" fill="none" stroke="#a01828" stroke-width="1.1" stroke-opacity="0.50"/><circle cx="1027.3" cy="364.7" r="8.5" fill="none" stroke="#e04a5c" stroke-width="2.9" stroke-opacity="0.8"/><circle cx="1027.3" cy="364.7" r="8.5" fill="none" stroke="#a01828" stroke-width="1.1" stroke-opacity="0.64"/><circle cx="1027.3" cy="364.7" r="3.8" fill="none" stroke="#d01030" stroke-width="3.2"/><circle cx="1027.3" cy="364.7" r="3.8" fill="none" stroke="#8a0010" stroke-width="1.6"/><circle cx="1027.3" cy="364.7" r="2.1" fill="#f8f6f0"/>
<circle cx="1045.6" cy="364.7" r="15.1" fill="#fff" fill-opacity="0.5"/><circle cx="1045.6" cy="364.7" r="13.5" fill="none" stroke="#cccc5a" stroke-width="2.9" stroke-opacity="0.63"/><circle cx="1045.6" cy="364.7" r="13.5" fill="none" stroke="#6a6a40" stroke-width="1.1" stroke-opacity="0.50"/><circle cx="1045.6" cy="364.7" r="8.5" fill="none" stroke="#cccc5a" stroke-width="2.9" stroke-opacity="0.8"/><circle cx="1045.6" cy="364.7" r="8.5" fill="none" stroke="#6a6a40" stroke-width="1.1" stroke-opacity="0.64"/><circle cx="1045.6" cy="364.7" r="3.8" fill="none" stroke="#b4b028" stroke-width="3.2"/><circle cx="1045.6" cy="364.7" r="3.8" fill="none" stroke="#4e4e10" stroke-width="1.6"/><circle cx="1045.6" cy="364.7" r="2.1" fill="#f8f6f0"/>
<g font-family="Liberation Sans" font-weight="bold" font-size="17.0" fill="#000" stroke="#000" stroke-width="0.3">
<text x="262.1" y="71.4" textLength="153.0" lengthAdjust="spacingAndGlyphs">M4.2 18Mar 20:19</text>
<text x="32.5" y="90.4" textLength="153.0" lengthAdjust="spacingAndGlyphs">M3.9 18Mar 12:23</text>
<text x="273.9" y="125.5" textLength="153.0" lengthAdjust="spacingAndGlyphs">M4.0 18Mar 09:44</text>
<text x="235.1" y="223" textLength="153.0" lengthAdjust="spacingAndGlyphs">M3.9 18Mar 12:23</text>
<text x="83.1" y="254.3" textLength="153.0" lengthAdjust="spacingAndGlyphs">M3.8 18Mar 09:46</text>
<text x="107.1" y="274.8" textLength="153.0" lengthAdjust="spacingAndGlyphs">M4.0 18Mar 12:09</text>
<text x="313.7" y="284.8" textLength="153.0" lengthAdjust="spacingAndGlyphs">M5.0 18Mar 17:35</text>
<text x="363.3" y="263.3" textLength="153.0" lengthAdjust="spacingAndGlyphs">M4.5 18Mar 22:07</text>
<text x="530.7" y="196.8" textLength="153.0" lengthAdjust="spacingAndGlyphs">M3.8 18Mar 14:00</text>
<text x="780.9" y="156.9" textLength="153.0" lengthAdjust="spacingAndGlyphs">M3.7 18Mar 06:10</text>
<text x="862.1" y="196.8" textLength="153.0" lengthAdjust="spacingAndGlyphs">M4.2 18Mar 12:54</text>
<text x="1110.3" y="131.1" textLength="153.0" lengthAdjust="spacingAndGlyphs">M4.4 18Mar 06:26</text>
<text x="1087.5" y="172.2" textLength="153.0" lengthAdjust="spacingAndGlyphs">M4.7 18Mar 21:23</text>
<text x="1103.5" y="212" textLength="153.0" lengthAdjust="spacingAndGlyphs">M4.8 18Mar 10:08</text>
<text x="780.7" y="255.9" textLength="153.0" lengthAdjust="spacingAndGlyphs">M3.6 18Mar 12:37</text>
<text x="863.5" y="277" textLength="153.0" lengthAdjust="spacingAndGlyphs">M4.4 18Mar 22:11</text>
<text x="1132.4" y="269.8" textLength="153.0" lengthAdjust="spacingAndGlyphs">M4.7 18Mar 06:04</text>
<text x="1069.5" y="314.5" textLength="153.0" lengthAdjust="spacingAndGlyphs">M4.1 19Mar 02:26</text>
<text x="783.8" y="320.8" textLength="153.0" lengthAdjust="spacingAndGlyphs">M3.9 18Mar 06:42</text>
<text x="989.8" y="335.6" textLength="153.0" lengthAdjust="spacingAndGlyphs">M4.4 18Mar 06:10</text>
<text x="809.2" y="369.4" textLength="153.0" lengthAdjust="spacingAndGlyphs">M4.3 18Mar 09:07</text>
<text x="1086.9" y="377.3" textLength="153.0" lengthAdjust="spacingAndGlyphs">M4.3 18Mar 17:58</text>
<text x="866.7" y="433.9" textLength="153.0" lengthAdjust="spacingAndGlyphs">M5.4 18Mar 11:10</text>
<text x="1103.5" y="481.3" textLength="153.0" lengthAdjust="spacingAndGlyphs">M5.0 18Mar 21:07</text>
<text x="347.6" y="377.5" textLength="153.0" lengthAdjust="spacingAndGlyphs">M3.7 18Mar 12:20</text>
<text x="375.1" y="414.3" textLength="153.0" lengthAdjust="spacingAndGlyphs">M3.9 18Mar 13:51</text>
<text x="194.7" y="443.2" textLength="153.0" lengthAdjust="spacingAndGlyphs">M3.5 18Mar 22:44</text>
<text x="390.4" y="472.1" textLength="153.0" lengthAdjust="spacingAndGlyphs">M4.2 18Mar 16:18</text>
<text x="558.7" y="582.5" textLength="153.0" lengthAdjust="spacingAndGlyphs">M5.1 19Mar 02:07</text>
</g>
<path d="M881.3,634.8 L927.1,634.8 L910.5,623.6 L898.6,623.6 Z" fill="#333"/>
<circle cx="1175" cy="620.4" r="8.3" fill="none" stroke="#b81818" stroke-width="2.8"/>
<circle cx="1175" cy="620.4" r="3.4" fill="none" stroke="#b81818" stroke-width="2.6"/>
<circle cx="1190.3" cy="620.4" r="8.3" fill="none" stroke="#d83c1c" stroke-width="2.8"/>
<circle cx="1190.3" cy="620.4" r="3.4" fill="none" stroke="#d83c1c" stroke-width="2.6"/>
<circle cx="1205.6" cy="620.4" r="8.3" fill="none" stroke="#b08a28" stroke-width="2.8"/>
<circle cx="1205.6" cy="620.4" r="3.4" fill="none" stroke="#b08a28" stroke-width="2.6"/>
<circle cx="1220.4" cy="620.4" r="8.3" fill="none" stroke="#28a028" stroke-width="2.8"/>
<circle cx="1220.4" cy="620.4" r="3.4" fill="none" stroke="#28a028" stroke-width="2.6"/>
<circle cx="1235.2" cy="620.4" r="8.3" fill="none" stroke="#1818c0" stroke-width="2.8"/>
<circle cx="1235.2" cy="620.4" r="3.4" fill="none" stroke="#1818c0" stroke-width="2.6"/>
<circle cx="1250.5" cy="620.4" r="8.3" fill="none" stroke="#202080" stroke-width="2.8"/>
<circle cx="1250.5" cy="620.4" r="3.4" fill="none" stroke="#202080" stroke-width="2.6"/>
<text x="9.2" y="28.3" font-family="Liberation Sans" font-weight="bold" font-size="27" fill="#000" stroke="#000" stroke-width="0.4" textLength="160.8" lengthAdjust="spacingAndGlyphs">Earthquakes</text>
<text x="179.8" y="28.3" font-family="Liberation Sans" font-weight="bold" font-size="27" fill="#000" stroke="#000" stroke-width="0.4" textLength="59.0" lengthAdjust="spacingAndGlyphs">M3+</text>
<text x="9.2" y="56.6" font-family="Liberation Sans" font-weight="bold" font-size="19.5" fill="#000" stroke="#000" stroke-width="0.4" textLength="90.4" lengthAdjust="spacingAndGlyphs">updated:</text>
<text x="105.2" y="56.6" font-family="Liberation Sans" font-weight="bold" font-size="19.5" fill="#000" stroke="#000" stroke-width="0.4" textLength="22.8" lengthAdjust="spacingAndGlyphs">19</text>
<text x="135.2" y="56.6" font-family="Liberation Sans" font-weight="bold" font-size="19.5" fill="#000" stroke="#000" stroke-width="0.4" textLength="38.4" lengthAdjust="spacingAndGlyphs">Mar</text>
<text x="181.8" y="56.6" font-family="Liberation Sans" font-weight="bold" font-size="19.5" fill="#000" stroke="#000" stroke-width="0.4" textLength="46.4" lengthAdjust="spacingAndGlyphs">2026</text>
<text x="233.6" y="56.6" font-family="Liberation Sans" font-weight="bold" font-size="19.5" fill="#000" stroke="#000" stroke-width="0.4" textLength="54.6" lengthAdjust="spacingAndGlyphs">05:20</text>
<text x="295.2" y="56.6" font-family="Liberation Sans" font-weight="bold" font-size="19.5" fill="#000" stroke="#000" stroke-width="0.4" textLength="53.6" lengthAdjust="spacingAndGlyphs">(UTC)</text>
<text x="1119.4" y="34.5" font-family="Liberation Sans" font-weight="bold" font-size="27" fill="#000" stroke="#000" stroke-width="0.4" textLength="29.6" lengthAdjust="spacingAndGlyphs">19</text>
<text x="1157.6" y="34.5" font-family="Liberation Sans" font-weight="bold" font-size="27" fill="#000" stroke="#000" stroke-width="0.4" textLength="53.6" lengthAdjust="spacingAndGlyphs">Mar</text>
<text x="1220.2" y="34.5" font-family="Liberation Sans" font-weight="bold" font-size="27" fill="#000" stroke="#000" stroke-width="0.4" textLength="63.4" lengthAdjust="spacingAndGlyphs">2026</text>
<text x="9.0" y="588.1" font-family="Liberation Sans" font-weight="normal" font-size="10" fill="#000" textLength="238.2" lengthAdjust="spacingAndGlyphs">Map base: Robinson projection of the world</text>
<text x="10.0" y="618.8" font-family="Liberation Sans" font-weight="normal" font-size="10" fill="#808080" textLength="204.2" lengthAdjust="spacingAndGlyphs">generated in 0.17ms 19 Mar 2026 05:20</text>
<text x="897.8" y="620.2" font-family="Liberation Sans" font-weight="bold" font-size="21" fill="#333" stroke="#333" stroke-width="0.5" textLength="109.4" lengthAdjust="spacingAndGlyphs">VOLCANO</text>
<text x="931.2" y="634.8" font-family="Liberation Sans" font-weight="bold" font-size="16.5" fill="#c41e2a" textLength="97.6" lengthAdjust="spacingAndGlyphs">DISCOVERY</text>
<text x="1159.8" y="642.8" font-family="Liberation Sans" font-weight="normal" font-size="10.5" fill="#000" textLength="42.8" lengthAdjust="spacingAndGlyphs">shallow</text>
<text x="1229.8" y="640.7" font-family="Liberation Sans" font-weight="normal" font-size="10.5" fill="#000" textLength="24.4" lengthAdjust="spacingAndGlyphs">deep</text>
</svg>

</body></html>
